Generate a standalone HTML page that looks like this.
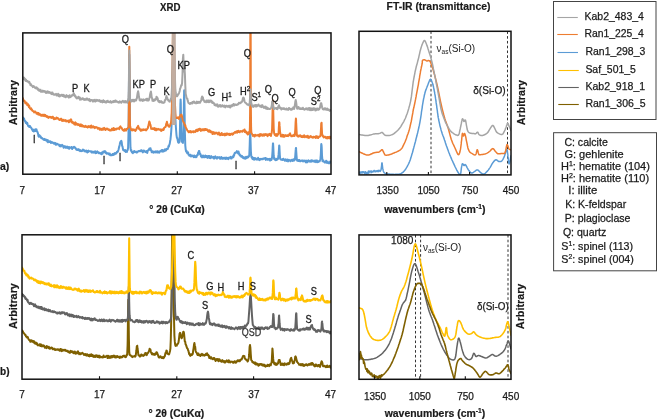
<!DOCTYPE html>
<html><head><meta charset="utf-8"><title>XRD and FT-IR</title>
<style>html,body{margin:0;padding:0;background:#fff;width:657px;height:420px;overflow:hidden;font-family:"Liberation Sans",sans-serif}svg{display:block;will-change:transform}</style>
</head><body>
<svg width="657" height="420" viewBox="0 0 657 420" font-family='"Liberation Sans", sans-serif'><rect width="657" height="420" fill="#fff"/><defs><clipPath id="cxa"><rect x="22.8" y="32.9" width="308.2" height="141.3"/></clipPath><clipPath id="cxb"><rect x="22.0" y="234.8" width="309.0" height="144.4"/></clipPath><clipPath id="cfa"><rect x="359.0" y="31.3" width="152.0" height="143.6"/></clipPath><clipPath id="cfb"><rect x="359.0" y="234.9" width="152.0" height="144.4"/></clipPath></defs><g clip-path="url(#cxa)"><polyline points="22.5,117.4 22.9,118.0 23.3,117.7 23.7,119.4 24.1,118.7 24.5,120.3 24.9,121.0 25.3,120.9 25.7,122.8 26.1,123.0 26.5,122.3 26.9,123.9 27.3,123.0 27.7,124.5 28.1,125.8 28.5,126.3 28.9,126.3 29.3,126.9 29.7,125.9 30.1,126.1 30.5,127.3 30.9,127.5 31.3,127.9 31.7,128.6 32.1,129.7 32.5,130.2 32.9,130.9 33.3,129.6 33.7,131.6 34.1,131.1 34.5,130.3 34.9,130.9 35.3,129.2 35.7,131.0 36.1,130.2 36.5,129.4 36.9,131.5 37.3,131.5 37.7,132.6 38.1,134.1 38.5,136.3 38.9,136.7 39.3,135.1 39.7,135.5 40.1,136.4 40.5,136.3 40.9,137.7 41.3,138.2 41.7,137.7 42.1,138.2 42.5,138.7 42.9,139.0 43.3,139.3 43.7,139.8 44.1,138.9 44.5,140.0 44.9,139.1 45.3,140.3 45.7,140.2 46.1,139.5 46.5,140.6 46.9,140.6 47.3,141.6 47.7,140.0 48.1,142.2 48.5,141.2 48.9,141.2 49.3,141.3 49.7,142.0 50.1,141.6 50.5,141.4 50.9,143.0 51.3,141.9 51.7,142.3 52.1,142.6 52.5,142.2 52.9,142.6 53.3,143.2 53.7,143.0 54.1,143.8 54.5,143.8 54.9,142.9 55.3,143.2 55.7,144.8 56.1,143.5 56.5,144.6 56.9,144.3 57.3,143.9 57.7,144.2 58.1,144.5 58.5,144.5 58.9,144.5 59.3,145.7 59.7,146.3 60.1,146.2 60.5,145.1 60.9,146.5 61.3,146.0 61.7,145.5 62.1,144.8 62.5,145.5 62.9,145.4 63.3,147.0 63.7,147.7 64.1,147.2 64.5,147.1 64.9,146.1 65.3,146.9 65.7,147.8 66.1,146.8 66.5,147.8 66.9,147.7 67.3,146.6 67.7,148.0 68.1,147.8 68.5,148.4 68.9,147.0 69.3,148.8 69.7,147.3 70.1,147.8 70.5,147.8 70.9,147.2 71.3,147.2 71.7,147.0 72.1,149.1 72.5,148.0 72.9,147.5 73.3,147.9 73.7,147.2 74.1,146.8 74.5,147.3 74.9,147.7 75.3,147.5 75.7,148.8 76.1,148.9 76.5,149.8 76.9,149.3 77.3,150.0 77.7,150.0 78.1,149.2 78.5,150.2 78.9,149.4 79.3,150.5 79.7,150.0 80.1,151.1 80.5,150.2 80.9,150.7 81.3,151.2 81.7,151.0 82.1,151.0 82.5,150.7 82.9,149.6 83.3,149.8 83.7,149.7 84.1,150.3 84.5,151.3 84.9,151.2 85.3,151.5 85.7,151.4 86.1,150.5 86.5,151.6 86.9,150.8 87.3,152.5 87.7,150.9 88.1,152.0 88.5,150.6 88.9,151.4 89.3,151.3 89.7,151.3 90.1,151.3 90.5,151.3 90.9,151.6 91.3,151.3 91.7,152.6 92.1,152.2 92.5,152.4 92.9,151.6 93.3,152.5 93.7,152.4 94.1,152.7 94.5,151.6 94.9,152.1 95.3,151.4 95.7,153.2 96.1,152.6 96.5,153.0 96.9,152.0 97.3,151.3 97.7,152.2 98.1,152.0 98.5,152.9 98.9,153.3 99.3,152.7 99.7,153.3 100.1,153.1 100.5,153.4 100.9,153.1 101.3,154.3 101.7,152.6 102.1,153.3 102.5,153.8 102.9,152.3 103.3,151.5 103.7,151.7 104.1,152.1 104.5,151.8 104.9,151.1 105.3,151.3 105.7,153.0 106.1,152.5 106.5,153.7 106.9,152.9 107.3,153.5 107.7,153.7 108.1,153.9 108.5,153.4 108.9,154.3 109.3,154.6 109.7,153.5 110.1,154.4 110.5,155.3 110.9,154.8 111.3,155.2 111.7,154.9 112.1,155.2 112.5,154.0 112.9,154.4 113.3,155.0 113.7,153.8 114.1,154.6 114.5,154.6 114.9,153.0 115.3,153.1 115.7,153.8 116.1,153.3 116.5,152.9 116.9,151.9 117.3,152.3 117.7,151.9 118.1,151.0 118.5,149.8 118.9,148.0 119.3,146.6 119.7,144.8 120.1,142.6 120.5,141.7 120.9,141.3 121.3,140.8 121.7,142.1 122.1,145.8 122.5,146.3 122.9,148.9 123.3,150.2 123.7,149.7 124.1,150.0 124.5,151.0 124.9,150.2 125.3,150.1 125.7,152.0 126.1,151.2 126.5,151.4 126.9,151.9 127.3,150.2 127.7,150.0 128.1,147.7 128.5,133.1 128.7,115.1 128.9,90.3 129.0,77.1 129.2,60.7 129.3,54.5 129.4,62.0 129.6,76.8 129.7,91.0 129.9,114.8 130.1,131.8 130.5,147.9 130.9,150.5 131.3,150.0 131.7,151.7 132.1,152.4 132.5,151.8 132.9,153.2 133.3,152.3 133.7,152.4 134.1,151.1 134.5,151.1 134.9,151.6 135.3,152.0 135.7,152.2 136.1,151.7 136.5,151.8 136.9,152.6 137.3,151.7 137.7,151.9 138.1,151.4 138.5,151.0 138.9,151.1 139.3,151.2 139.7,150.9 140.1,150.9 140.5,150.6 140.9,151.3 141.3,150.3 141.7,151.2 142.1,150.8 142.5,151.5 142.9,152.4 143.3,150.6 143.7,150.9 144.1,151.5 144.5,150.7 144.9,151.4 145.3,152.0 145.7,151.9 146.1,151.5 146.5,152.4 146.9,151.1 147.3,152.9 147.7,150.9 148.1,150.5 148.5,149.8 148.9,150.0 149.3,148.6 149.7,148.6 150.1,149.3 150.5,148.3 150.9,150.2 151.3,150.3 151.7,152.2 152.1,151.3 152.5,152.0 152.9,151.4 153.3,152.7 153.7,152.5 154.1,152.3 154.5,151.7 154.9,152.3 155.3,151.4 155.7,152.4 156.1,152.0 156.5,151.5 156.9,151.3 157.3,152.6 157.7,151.3 158.1,152.5 158.5,152.6 158.9,151.9 159.3,152.6 159.7,151.5 160.1,151.2 160.5,150.9 160.9,150.8 161.3,151.5 161.7,150.1 162.1,151.1 162.5,150.0 162.9,151.7 163.3,150.7 163.7,151.1 164.1,151.2 164.5,149.9 164.9,149.3 165.3,149.5 165.7,150.6 166.1,150.1 166.5,148.9 166.9,149.3 167.3,148.8 167.7,149.0 168.1,147.8 168.5,146.1 168.9,146.5 169.3,144.8 169.7,143.8 170.1,141.3 170.5,139.2 170.9,135.3 171.3,130.1 171.7,122.8 172.1,110.0 172.5,91.4 172.9,62.2 173.3,30.0 173.7,21.8 174.1,46.8 174.5,78.3 174.9,100.3 175.3,116.1 175.7,124.4 176.1,130.0 176.5,135.1 176.9,137.8 177.3,138.0 177.7,140.3 178.1,142.2 178.5,142.8 178.9,142.3 179.3,142.3 179.7,137.5 180.0,126.7 180.1,121.0 180.3,110.4 180.4,103.8 180.5,102.4 180.6,99.4 180.8,102.8 180.9,110.3 181.2,127.9 181.3,131.4 181.7,141.5 182.1,141.7 182.5,142.4 182.9,143.0 183.3,137.6 183.6,124.2 183.7,118.3 183.9,104.2 184.1,93.7 184.1,91.3 184.2,90.3 184.3,94.5 184.5,103.7 184.8,127.7 184.9,132.7 185.3,145.6 185.7,149.6 186.1,151.5 186.5,150.6 186.9,152.7 187.3,153.3 187.7,152.6 188.1,152.3 188.5,154.6 188.9,154.5 189.3,155.8 189.7,155.7 190.1,155.6 190.5,154.7 190.9,156.6 191.3,155.5 191.7,155.6 192.1,155.9 192.5,155.6 192.9,156.1 193.3,156.7 193.7,157.2 194.1,155.4 194.5,156.4 194.9,155.8 195.3,157.2 195.7,156.3 196.1,156.0 196.5,157.1 196.9,155.4 197.3,155.1 197.7,155.2 198.1,152.6 198.5,152.9 198.9,151.0 199.3,150.9 199.7,153.9 200.1,153.5 200.5,154.2 200.9,156.3 201.3,156.7 201.7,155.7 202.1,157.4 202.5,155.8 202.9,155.9 203.3,155.6 203.7,157.3 204.1,157.1 204.5,157.2 204.9,156.9 205.3,155.5 205.7,156.1 206.1,157.2 206.5,156.0 206.9,157.3 207.3,156.2 207.7,157.9 208.1,156.0 208.5,155.9 208.9,157.5 209.3,155.9 209.7,158.1 210.1,156.9 210.5,158.1 210.9,157.6 211.3,156.1 211.7,157.5 212.1,157.4 212.5,157.4 212.9,157.3 213.3,156.9 213.7,158.4 214.1,157.1 214.5,158.6 214.9,157.0 215.3,156.4 215.7,157.5 216.1,157.1 216.5,158.2 216.9,158.7 217.3,157.8 217.7,157.1 218.1,157.7 218.5,157.7 218.9,157.5 219.3,157.1 219.7,157.7 220.1,158.8 220.5,158.8 220.9,158.8 221.3,157.0 221.7,158.2 222.1,158.0 222.5,158.6 222.9,157.7 223.3,158.6 223.7,158.3 224.1,158.4 224.5,157.7 224.9,158.7 225.3,158.6 225.7,158.9 226.1,157.4 226.5,158.8 226.9,158.8 227.3,158.0 227.7,158.2 228.1,157.9 228.5,159.1 228.9,157.7 229.3,157.9 229.7,157.5 230.1,157.5 230.5,156.8 230.9,158.6 231.3,158.2 231.7,158.4 232.1,157.6 232.5,156.6 232.9,156.9 233.3,157.3 233.7,155.1 234.1,155.6 234.5,153.5 234.9,152.8 235.3,152.9 235.7,152.6 236.1,152.2 236.5,152.4 236.9,151.1 237.3,152.6 237.7,151.8 238.1,153.4 238.5,151.6 238.9,153.0 239.3,154.7 239.7,154.3 240.1,155.8 240.5,155.1 240.9,155.9 241.3,156.7 241.7,156.5 242.1,156.0 242.5,157.6 242.9,156.8 243.3,158.1 243.7,157.2 244.1,158.5 244.5,157.5 244.9,157.4 245.3,158.7 245.7,158.5 246.1,156.7 246.5,157.1 246.9,157.9 247.3,157.6 247.7,156.6 248.1,157.4 248.5,156.5 248.9,156.4 249.3,154.7 249.6,147.5 249.7,145.1 249.9,137.9 250.1,134.6 250.1,132.6 250.2,132.4 250.3,133.9 250.5,138.2 250.8,148.9 250.9,151.5 251.3,156.3 251.7,157.8 252.1,156.9 252.5,159.0 252.9,158.5 253.3,159.1 253.7,157.9 254.1,159.7 254.5,159.6 254.9,157.9 255.3,158.4 255.7,159.1 256.1,158.6 256.5,158.8 256.9,159.6 257.3,158.8 257.7,159.5 258.1,157.8 258.5,159.0 258.9,159.6 259.3,159.2 259.7,160.1 260.1,159.0 260.5,159.3 260.9,158.8 261.3,159.2 261.7,159.3 262.1,158.8 262.5,158.9 262.9,159.3 263.3,158.5 263.7,158.5 264.1,158.2 264.5,158.8 264.9,158.8 265.3,158.0 265.7,159.9 266.1,159.5 266.5,158.5 266.9,158.8 267.3,158.8 267.7,159.8 268.1,159.2 268.5,159.2 268.9,159.7 269.3,158.8 269.7,160.3 270.1,160.5 270.5,159.6 270.9,158.8 271.3,160.1 271.7,159.3 272.1,157.3 272.4,153.0 272.5,151.8 272.7,147.0 272.9,144.3 272.9,143.5 273.0,143.6 273.1,143.5 273.3,147.1 273.6,153.5 273.7,155.7 274.1,158.9 274.5,158.1 274.9,159.7 275.3,159.0 275.7,160.2 276.1,159.4 276.5,158.9 276.9,159.9 277.3,158.8 277.7,159.3 278.1,158.2 278.5,154.9 278.6,154.4 278.9,150.3 279.1,146.7 279.2,145.4 279.3,147.0 279.4,146.0 279.5,148.9 279.7,152.5 279.8,154.8 280.1,158.3 280.5,159.4 280.9,159.6 281.3,159.7 281.7,159.6 282.1,159.2 282.5,159.9 282.9,159.6 283.3,158.7 283.7,159.1 284.1,159.5 284.5,160.4 284.9,160.8 285.3,160.2 285.7,159.3 286.1,160.4 286.5,160.9 286.9,160.5 287.3,159.5 287.7,160.0 288.1,161.4 288.5,160.2 288.9,159.7 289.3,160.5 289.7,160.2 290.1,160.4 290.5,161.3 290.9,160.5 291.3,160.1 291.7,159.8 292.1,160.4 292.5,161.0 292.9,160.9 293.3,159.2 293.7,160.5 294.1,160.6 294.5,159.7 294.9,159.8 295.3,155.4 295.6,151.2 295.7,149.5 295.8,149.2 295.9,147.9 296.1,147.9 296.1,149.8 296.2,150.7 296.5,155.4 296.9,160.1 297.3,160.8 297.7,160.4 298.1,160.1 298.5,161.0 298.9,160.1 299.3,159.9 299.7,160.3 300.1,161.3 300.5,160.9 300.9,161.2 301.3,160.7 301.7,160.7 302.1,160.4 302.5,161.0 302.9,161.5 303.3,161.3 303.7,160.6 304.1,160.8 304.5,160.6 304.9,161.4 305.3,160.7 305.7,162.1 306.1,162.4 306.5,161.6 306.9,160.6 307.3,162.2 307.7,161.8 308.1,161.2 308.5,160.4 308.9,161.1 309.3,160.9 309.7,160.9 310.1,161.8 310.5,160.6 310.9,160.8 311.3,161.7 311.7,160.2 312.1,160.7 312.5,161.1 312.9,160.6 313.3,161.3 313.7,161.1 314.1,161.6 314.5,161.8 314.9,160.6 315.3,160.6 315.7,161.9 316.1,162.2 316.5,160.6 316.9,160.4 317.3,161.1 317.7,162.2 318.1,162.0 318.5,161.4 318.9,161.7 319.3,160.7 319.7,161.3 320.1,159.9 320.5,158.2 320.8,154.9 320.9,152.4 321.1,147.4 321.2,144.9 321.3,144.0 321.4,144.5 321.6,145.7 321.7,147.3 322.0,155.5 322.1,156.5 322.5,161.2 322.9,160.9 323.3,160.4 323.7,161.6 324.1,161.6 324.5,162.2 324.9,162.6 325.3,162.3 325.7,162.1 326.1,160.8 326.5,162.5 326.9,163.0 327.3,161.7 327.7,161.6 328.1,162.5 328.5,163.2 328.9,163.3 329.3,163.1 329.7,163.3 330.1,161.4 330.5,162.2 330.9,161.8" fill="none" stroke="#5b9bd5" stroke-width="2.0" stroke-linejoin="round" stroke-linecap="round"/><polyline points="22.5,100.0 22.9,98.3 23.3,100.4 23.7,100.1 24.1,101.2 24.5,100.7 24.9,101.6 25.3,103.4 25.7,103.2 26.1,103.0 26.5,102.5 26.9,103.7 27.3,105.2 27.7,105.0 28.1,104.2 28.5,104.8 28.9,107.1 29.3,106.0 29.7,107.9 30.1,108.6 30.5,108.8 30.9,109.3 31.3,108.4 31.7,109.9 32.1,109.8 32.5,110.9 32.9,111.0 33.3,111.4 33.7,111.3 34.1,112.5 34.5,111.9 34.9,111.5 35.3,111.5 35.7,112.2 36.1,112.6 36.5,113.7 36.9,113.3 37.3,113.6 37.7,112.8 38.1,114.4 38.5,113.0 38.9,114.7 39.3,114.0 39.7,113.9 40.1,114.5 40.5,115.5 40.9,114.7 41.3,114.7 41.7,115.8 42.1,115.6 42.5,114.7 42.9,115.4 43.3,116.0 43.7,115.5 44.1,114.6 44.5,115.1 44.9,116.1 45.3,115.0 45.7,115.8 46.1,115.9 46.5,116.9 46.9,116.0 47.3,116.1 47.7,117.2 48.1,117.7 48.5,117.9 48.9,116.8 49.3,117.1 49.7,117.1 50.1,116.8 50.5,117.5 50.9,117.0 51.3,117.6 51.7,117.9 52.1,117.8 52.5,116.7 52.9,116.8 53.3,117.8 53.7,118.8 54.1,119.3 54.5,118.1 54.9,118.4 55.3,119.0 55.7,118.2 56.1,118.7 56.5,117.5 56.9,117.8 57.3,118.4 57.7,118.1 58.1,118.2 58.5,119.0 58.9,119.4 59.3,119.9 59.7,120.1 60.1,119.7 60.5,118.9 60.9,119.8 61.3,118.8 61.7,119.8 62.1,121.0 62.5,119.9 62.9,120.4 63.3,120.6 63.7,119.7 64.1,120.9 64.5,120.3 64.9,120.5 65.3,120.7 65.7,120.0 66.1,121.5 66.5,121.1 66.9,120.9 67.3,120.9 67.7,121.2 68.1,120.5 68.5,121.8 68.9,122.3 69.3,120.5 69.7,121.8 70.1,120.7 70.5,119.8 70.9,119.3 71.3,119.9 71.7,121.6 72.1,122.7 72.5,121.8 72.9,122.2 73.3,123.3 73.7,123.5 74.1,122.8 74.5,124.5 74.9,123.1 75.3,122.4 75.7,124.7 76.1,123.2 76.5,123.4 76.9,124.5 77.3,124.2 77.7,124.1 78.1,125.1 78.5,124.4 78.9,124.2 79.3,125.0 79.7,125.0 80.1,126.1 80.5,124.7 80.9,124.4 81.3,126.2 81.7,125.2 82.1,125.1 82.5,126.4 82.9,125.7 83.3,125.7 83.7,126.4 84.1,126.9 84.5,126.2 84.9,126.2 85.3,126.6 85.7,125.8 86.1,127.0 86.5,127.0 86.9,126.9 87.3,126.6 87.7,127.5 88.1,127.0 88.5,126.1 88.9,127.0 89.3,127.2 89.7,126.7 90.1,126.1 90.5,126.7 90.9,127.6 91.3,125.5 91.7,127.4 92.1,127.5 92.5,127.4 92.9,126.6 93.3,126.2 93.7,127.4 94.1,127.4 94.5,127.1 94.9,128.1 95.3,127.1 95.7,127.3 96.1,127.1 96.5,127.4 96.9,127.6 97.3,127.6 97.7,128.7 98.1,128.3 98.5,128.3 98.9,127.9 99.3,128.6 99.7,129.8 100.1,129.1 100.5,128.6 100.9,129.1 101.3,129.9 101.7,129.6 102.1,128.6 102.5,128.5 102.9,129.8 103.3,129.3 103.7,128.5 104.1,127.9 104.5,128.2 104.9,128.5 105.3,130.1 105.7,129.5 106.1,129.1 106.5,128.5 106.9,129.2 107.3,128.6 107.7,128.7 108.1,129.7 108.5,129.9 108.9,129.9 109.3,129.5 109.7,130.4 110.1,130.1 110.5,130.6 110.9,130.6 111.3,129.6 111.7,129.2 112.1,128.6 112.5,129.3 112.9,130.2 113.3,130.1 113.7,128.0 114.1,128.7 114.5,130.1 114.9,129.3 115.3,128.9 115.7,129.3 116.1,129.5 116.5,128.6 116.9,128.5 117.3,128.4 117.7,128.8 118.1,128.5 118.5,128.3 118.9,128.6 119.3,129.1 119.7,127.1 120.1,127.4 120.5,126.4 120.9,127.6 121.3,127.8 121.7,127.9 122.1,128.9 122.5,129.7 122.9,130.2 123.3,129.9 123.7,130.7 124.1,130.8 124.5,129.8 124.9,129.1 125.3,130.6 125.7,130.3 126.1,130.5 126.5,129.0 126.9,128.7 127.3,128.9 127.7,128.1 128.1,127.8 128.5,127.5 128.7,122.5 128.9,103.8 129.0,87.2 129.2,59.4 129.3,46.7 129.4,60.5 129.6,89.0 129.7,103.9 129.9,120.7 130.1,125.9 130.5,127.6 130.9,129.0 131.3,130.3 131.7,129.8 132.1,129.4 132.5,130.4 132.9,129.3 133.3,129.4 133.7,129.6 134.1,130.3 134.5,130.1 134.9,129.5 135.3,131.0 135.7,130.2 136.1,130.1 136.5,129.3 136.9,127.7 137.3,127.6 137.7,126.6 138.1,125.9 138.5,127.1 138.9,128.9 139.3,128.3 139.7,128.7 140.1,129.9 140.5,130.5 140.9,130.9 141.3,129.6 141.7,130.4 142.1,129.5 142.5,130.3 142.9,129.8 143.3,130.0 143.7,129.3 144.1,129.6 144.5,129.7 144.9,130.0 145.3,129.8 145.7,129.4 146.1,130.4 146.5,129.9 146.9,129.3 147.3,128.8 147.7,128.4 148.1,127.1 148.5,125.2 148.9,123.4 149.3,121.4 149.7,122.3 150.1,124.1 150.5,125.0 150.9,127.2 151.3,128.9 151.7,128.2 152.1,128.3 152.5,128.8 152.9,129.0 153.3,128.4 153.7,128.6 154.1,129.3 154.5,128.1 154.9,130.0 155.3,129.2 155.7,130.2 156.1,128.6 156.5,130.2 156.9,129.4 157.3,129.6 157.7,129.6 158.1,128.8 158.5,129.5 158.9,129.4 159.3,129.3 159.7,129.8 160.1,129.8 160.5,129.4 160.9,130.8 161.3,130.9 161.7,129.5 162.1,130.4 162.5,129.4 162.9,129.9 163.3,129.9 163.7,129.9 164.1,127.8 164.5,127.6 164.9,127.1 165.3,127.1 165.7,126.8 166.1,124.3 166.5,123.1 166.9,121.7 167.3,123.4 167.7,125.2 168.1,125.0 168.5,126.4 168.9,126.6 169.3,126.8 169.7,126.4 170.1,125.6 170.5,123.8 170.9,123.7 171.3,119.8 171.7,112.9 172.1,95.4 172.5,68.3 172.9,33.6 173.3,10.7 173.7,18.8 174.1,50.1 174.5,80.9 174.9,101.9 175.3,113.6 175.7,117.0 176.1,117.9 176.5,118.0 176.9,118.0 177.3,118.0 177.7,117.7 178.1,117.2 178.5,118.1 178.9,118.9 179.3,117.4 179.7,116.7 180.1,116.5 180.5,114.9 180.9,114.9 181.3,114.6 181.7,115.3 182.1,116.5 182.5,118.9 182.9,121.0 183.3,121.5 183.7,122.7 184.1,122.9 184.5,124.6 184.9,126.0 185.3,125.2 185.7,127.4 186.1,128.0 186.5,128.9 186.9,129.5 187.3,130.5 187.7,130.9 188.1,131.3 188.5,132.1 188.9,131.3 189.3,132.2 189.7,131.8 190.1,131.0 190.5,131.9 190.9,132.4 191.3,131.5 191.7,132.2 192.1,131.4 192.5,131.4 192.9,131.6 193.3,131.2 193.7,132.3 194.1,131.3 194.5,131.7 194.9,131.5 195.3,132.0 195.7,131.4 196.1,129.9 196.5,129.8 196.9,130.5 197.3,131.1 197.7,130.9 198.1,129.2 198.5,129.8 198.9,130.1 199.3,128.8 199.7,129.4 200.1,128.8 200.5,129.6 200.9,130.9 201.3,130.4 201.7,129.4 202.1,129.3 202.5,130.3 202.9,130.2 203.3,129.2 203.7,129.8 204.1,130.1 204.5,129.1 204.9,130.1 205.3,129.1 205.7,129.1 206.1,130.0 206.5,129.3 206.9,130.0 207.3,129.5 207.7,130.5 208.1,131.4 208.5,131.6 208.9,130.3 209.3,130.3 209.7,131.7 210.1,130.6 210.5,132.2 210.9,132.3 211.3,132.0 211.7,131.5 212.1,132.2 212.5,134.0 212.9,134.1 213.3,132.2 213.7,132.1 214.1,133.4 214.5,133.1 214.9,133.9 215.3,132.9 215.7,133.1 216.1,132.6 216.5,132.7 216.9,132.8 217.3,133.6 217.7,134.2 218.1,134.5 218.5,134.4 218.9,132.6 219.3,133.9 219.7,134.5 220.1,135.1 220.5,133.9 220.9,135.0 221.3,134.3 221.7,133.0 222.1,134.6 222.5,135.0 222.9,134.6 223.3,134.9 223.7,134.0 224.1,134.3 224.5,133.7 224.9,135.4 225.3,135.1 225.7,133.7 226.1,135.0 226.5,133.4 226.9,134.7 227.3,134.1 227.7,133.6 228.1,134.0 228.5,134.4 228.9,134.1 229.3,135.0 229.7,133.8 230.1,135.0 230.5,134.6 230.9,134.0 231.3,133.8 231.7,134.3 232.1,133.5 232.5,134.7 232.9,134.0 233.3,134.0 233.7,133.1 234.1,132.7 234.5,132.8 234.9,132.0 235.3,132.1 235.7,132.8 236.1,132.1 236.5,131.3 236.9,132.4 237.3,132.6 237.7,131.0 238.1,131.1 238.5,130.7 238.9,132.1 239.3,131.4 239.7,132.3 240.1,131.3 240.5,131.1 240.9,131.0 241.3,131.4 241.7,131.2 242.1,131.3 242.5,131.8 242.9,130.5 243.3,130.6 243.7,130.7 244.1,130.3 244.5,129.5 244.9,132.0 245.3,130.8 245.7,132.2 246.1,132.7 246.5,131.9 246.9,133.4 247.3,133.3 247.7,134.5 248.1,134.3 248.5,132.3 248.9,132.6 249.3,133.4 249.7,131.0 249.9,127.4 250.1,110.8 250.2,87.0 250.3,39.7 250.5,11.2 250.7,39.6 250.8,88.0 250.9,109.8 251.1,127.4 251.3,131.9 251.7,133.1 252.1,134.2 252.5,134.6 252.9,135.9 253.3,135.0 253.7,135.0 254.1,135.6 254.5,136.5 254.9,134.9 255.3,134.7 255.7,135.6 256.1,135.4 256.5,135.3 256.9,135.5 257.3,135.6 257.7,135.6 258.1,134.7 258.5,135.7 258.9,135.4 259.3,136.4 259.7,135.7 260.1,134.0 260.5,135.2 260.9,135.6 261.3,134.4 261.7,134.3 262.1,134.7 262.5,135.7 262.9,134.9 263.3,135.1 263.7,134.2 264.1,135.8 264.5,135.2 264.9,134.2 265.3,134.1 265.7,134.9 266.1,134.2 266.5,134.2 266.9,135.6 267.3,134.9 267.7,136.1 268.1,134.3 268.5,134.7 268.9,134.9 269.3,134.2 269.7,133.9 270.1,135.2 270.5,134.6 270.9,136.0 271.3,134.1 271.7,132.9 272.1,128.8 272.3,121.8 272.5,113.6 272.6,108.6 272.8,102.0 272.9,100.6 273.1,102.6 273.2,107.9 273.3,112.9 273.5,121.2 273.7,128.6 274.1,133.0 274.5,134.2 274.9,134.9 275.3,134.7 275.7,135.7 276.1,134.0 276.5,135.5 276.9,135.9 277.3,135.8 277.7,134.0 278.1,134.5 278.5,132.9 278.7,131.0 278.9,126.4 279.0,126.2 279.1,122.3 279.3,122.2 279.4,122.5 279.6,125.9 279.7,126.8 279.9,130.0 280.1,132.3 280.5,134.0 280.9,136.3 281.3,135.7 281.7,136.3 282.1,136.5 282.5,134.8 282.9,135.5 283.3,136.7 283.7,135.0 284.1,136.2 284.5,136.7 284.9,135.7 285.3,135.5 285.7,135.1 286.1,135.7 286.5,136.0 286.9,136.0 287.3,135.2 287.7,135.7 288.1,136.1 288.5,135.0 288.9,135.5 289.3,134.3 289.7,133.7 290.1,133.4 290.5,135.2 290.9,135.7 291.3,136.3 291.7,135.7 292.1,136.2 292.5,135.9 292.9,135.3 293.3,136.0 293.7,135.6 294.1,134.5 294.5,136.1 294.9,134.6 295.3,129.4 295.6,122.2 295.7,121.3 295.8,120.0 295.9,118.5 296.1,120.0 296.1,122.4 296.2,123.2 296.5,129.8 296.9,135.7 297.3,135.3 297.7,136.2 298.1,136.7 298.5,135.8 298.9,135.6 299.3,136.3 299.7,136.0 300.1,135.2 300.5,136.5 300.9,136.4 301.3,136.2 301.7,137.0 302.1,135.9 302.5,136.7 302.9,137.2 303.3,137.0 303.7,136.5 304.1,135.3 304.5,136.5 304.9,137.1 305.3,136.6 305.7,136.7 306.1,136.0 306.5,136.5 306.9,137.3 307.3,137.4 307.7,135.7 308.1,137.5 308.5,137.9 308.9,136.8 309.3,137.7 309.7,137.3 310.1,136.7 310.5,136.1 310.9,136.4 311.3,136.5 311.7,137.2 312.1,137.2 312.5,137.4 312.9,137.8 313.3,136.7 313.7,137.3 314.1,136.9 314.5,137.3 314.9,137.4 315.3,136.9 315.7,138.0 316.1,136.3 316.5,137.5 316.9,136.3 317.3,136.9 317.7,136.8 318.1,138.1 318.5,136.9 318.9,137.2 319.3,136.6 319.7,136.2 320.1,136.5 320.5,135.7 320.8,132.4 320.9,130.3 321.1,126.8 321.2,123.9 321.3,123.2 321.4,123.8 321.6,122.7 321.7,126.5 322.0,132.1 322.1,134.0 322.5,135.2 322.9,136.3 323.3,136.1 323.7,137.5 324.1,137.4 324.5,136.9 324.9,136.7 325.3,136.8 325.7,137.0 326.1,138.1 326.5,137.6 326.9,138.2 327.3,137.0 327.7,138.4 328.1,137.7 328.5,137.2 328.9,137.0 329.3,138.2 329.7,136.8 330.1,138.4 330.5,138.1 330.9,136.9" fill="none" stroke="#ed7d31" stroke-width="2.0" stroke-linejoin="round" stroke-linecap="round"/><polyline points="22.5,77.7 22.9,77.2 23.3,77.9 23.7,79.1 24.1,77.6 24.5,79.1 24.9,78.7 25.3,80.4 25.7,81.0 26.1,79.8 26.5,80.8 26.9,81.3 27.3,81.4 27.7,81.0 28.1,82.0 28.5,81.7 28.9,82.4 29.3,81.9 29.7,83.6 30.1,83.3 30.5,85.3 30.9,84.1 31.3,85.3 31.7,85.3 32.1,86.2 32.5,86.0 32.9,87.1 33.3,86.7 33.7,86.0 34.1,86.9 34.5,87.1 34.9,87.8 35.3,87.4 35.7,88.3 36.1,87.8 36.5,87.3 36.9,88.6 37.3,89.0 37.7,88.3 38.1,90.1 38.5,89.6 38.9,89.4 39.3,90.9 39.7,90.1 40.1,90.3 40.5,89.7 40.9,91.7 41.3,91.8 41.7,91.4 42.1,91.2 42.5,91.8 42.9,90.6 43.3,91.3 43.7,91.1 44.1,91.8 44.5,91.7 44.9,91.0 45.3,91.7 45.7,92.7 46.1,93.0 46.5,92.9 46.9,91.7 47.3,91.3 47.7,92.1 48.1,92.7 48.5,91.7 48.9,92.6 49.3,92.1 49.7,92.9 50.1,93.0 50.5,92.7 50.9,92.5 51.3,93.9 51.7,92.8 52.1,94.3 52.5,92.5 52.9,93.9 53.3,93.9 53.7,94.0 54.1,94.9 54.5,94.4 54.9,94.5 55.3,94.5 55.7,94.6 56.1,93.8 56.5,95.5 56.9,95.4 57.3,95.5 57.7,94.8 58.1,93.8 58.5,94.3 58.9,96.3 59.3,94.7 59.7,96.5 60.1,95.7 60.5,95.2 60.9,95.6 61.3,94.7 61.7,95.5 62.1,95.2 62.5,96.0 62.9,94.8 63.3,95.2 63.7,96.6 64.1,95.3 64.5,96.7 64.9,96.0 65.3,96.8 65.7,97.2 66.1,96.5 66.5,95.1 66.9,95.7 67.3,96.6 67.7,96.3 68.1,95.9 68.5,96.8 68.9,97.6 69.3,96.5 69.7,95.2 70.1,96.7 70.5,97.1 70.9,96.6 71.3,96.3 71.7,95.8 72.1,95.1 72.5,95.5 72.9,94.9 73.3,94.7 73.7,93.3 74.1,94.0 74.5,95.9 74.9,95.2 75.3,96.7 75.7,96.3 76.1,97.7 76.5,98.1 76.9,98.4 77.3,97.6 77.7,97.9 78.1,98.1 78.5,96.7 78.9,97.9 79.3,98.4 79.7,97.5 80.1,99.8 80.5,98.3 80.9,99.0 81.3,99.2 81.7,99.5 82.1,99.0 82.5,98.3 82.9,98.2 83.3,99.1 83.7,99.6 84.1,99.3 84.5,99.0 84.9,99.9 85.3,99.2 85.7,99.5 86.1,99.7 86.5,98.4 86.9,98.4 87.3,98.6 87.7,99.5 88.1,99.9 88.5,100.3 88.9,99.4 89.3,99.0 89.7,99.6 90.1,101.3 90.5,100.1 90.9,100.1 91.3,100.0 91.7,99.9 92.1,99.9 92.5,101.3 92.9,101.5 93.3,101.3 93.7,100.2 94.1,100.0 94.5,101.2 94.9,99.7 95.3,101.6 95.7,101.0 96.1,101.1 96.5,100.7 96.9,99.8 97.3,100.8 97.7,100.2 98.1,100.3 98.5,100.3 98.9,101.0 99.3,101.4 99.7,100.1 100.1,101.2 100.5,101.2 100.9,101.9 101.3,101.2 101.7,100.7 102.1,101.4 102.5,102.4 102.9,101.6 103.3,100.2 103.7,102.0 104.1,101.6 104.5,101.1 104.9,102.3 105.3,101.9 105.7,101.8 106.1,102.6 106.5,102.2 106.9,101.1 107.3,101.5 107.7,100.7 108.1,102.1 108.5,101.6 108.9,101.8 109.3,102.1 109.7,101.8 110.1,102.2 110.5,101.1 110.9,102.6 111.3,102.3 111.7,102.6 112.1,101.8 112.5,101.9 112.9,101.3 113.3,102.2 113.7,101.1 114.1,101.6 114.5,101.1 114.9,101.9 115.3,100.5 115.7,100.4 116.1,101.8 116.5,101.2 116.9,101.7 117.3,101.7 117.7,101.8 118.1,102.4 118.5,102.2 118.9,102.7 119.3,102.2 119.7,101.4 120.1,102.2 120.5,101.9 120.9,102.5 121.3,102.8 121.7,101.6 122.1,101.4 122.5,101.5 122.9,100.9 123.3,101.7 123.7,101.5 124.1,102.4 124.5,102.2 124.9,101.2 125.3,101.0 125.7,102.4 126.1,101.8 126.5,101.9 126.9,101.7 127.3,102.7 127.7,100.5 128.1,100.7 128.5,97.4 128.7,92.9 128.9,80.8 129.0,71.3 129.2,57.4 129.3,50.6 129.4,57.0 129.6,70.7 129.7,80.6 129.9,93.9 130.1,99.1 130.5,100.8 130.9,100.2 131.3,101.6 131.7,100.2 132.1,101.0 132.5,99.9 132.9,101.2 133.3,100.3 133.7,99.7 134.1,101.5 134.5,100.5 134.9,100.9 135.3,99.7 135.7,100.0 136.1,100.5 136.5,99.0 136.9,98.2 137.3,95.1 137.7,92.7 138.1,91.3 138.5,93.2 138.9,96.6 139.3,98.2 139.7,100.2 140.1,100.6 140.5,100.4 140.9,99.5 141.3,100.4 141.7,99.5 142.1,99.4 142.5,100.2 142.9,100.9 143.3,99.8 143.7,99.4 144.1,100.3 144.5,100.3 144.9,100.1 145.3,99.6 145.7,99.5 146.1,99.0 146.5,98.8 146.9,100.6 147.3,98.8 147.7,100.6 148.1,100.5 148.5,100.6 148.9,99.9 149.3,98.5 149.7,97.3 150.1,94.4 150.5,92.7 150.9,91.5 151.3,93.8 151.7,97.7 152.1,98.2 152.5,100.8 152.9,99.9 153.3,101.0 153.7,100.9 154.1,99.6 154.5,99.6 154.9,100.4 155.3,99.4 155.7,98.9 156.1,99.4 156.5,96.7 156.9,97.1 157.3,97.9 157.7,98.4 158.1,100.8 158.5,101.5 158.9,100.9 159.3,102.3 159.7,101.1 160.1,102.2 160.5,101.3 160.9,102.0 161.3,101.2 161.7,101.9 162.1,102.7 162.5,102.3 162.9,102.7 163.3,102.8 163.7,102.9 164.1,102.5 164.5,102.4 164.9,100.0 165.3,100.2 165.7,99.7 166.1,97.2 166.5,95.9 166.9,97.6 167.3,97.8 167.7,99.1 168.1,100.1 168.5,100.7 168.9,100.9 169.3,101.5 169.7,101.7 170.1,100.4 170.5,99.9 170.9,98.6 171.3,98.6 171.7,93.2 172.1,85.1 172.5,68.4 172.9,42.8 173.3,18.4 173.7,10.6 174.1,27.6 174.5,53.5 174.9,75.9 175.3,88.5 175.7,93.0 176.1,94.9 176.5,96.1 176.9,95.8 177.3,96.1 177.7,94.5 178.1,94.9 178.5,94.0 178.9,93.3 179.3,92.3 179.7,90.9 180.1,88.5 180.5,88.0 180.9,86.4 181.3,85.1 181.7,85.4 182.1,82.6 182.5,74.5 182.9,58.6 183.3,54.7 183.7,65.2 184.1,71.6 184.5,67.5 184.9,74.0 185.3,85.8 185.7,94.0 186.1,95.4 186.5,97.8 186.9,98.5 187.3,98.4 187.7,100.6 188.1,101.9 188.5,103.0 188.9,103.1 189.3,103.4 189.7,104.0 190.1,104.0 190.5,103.0 190.9,103.4 191.3,103.0 191.7,102.6 192.1,103.5 192.5,101.9 192.9,102.8 193.3,102.0 193.7,101.5 194.1,101.7 194.5,102.9 194.9,102.7 195.3,102.6 195.7,102.5 196.1,103.4 196.5,102.5 196.9,101.6 197.3,102.2 197.7,103.0 198.1,102.0 198.5,102.6 198.9,101.8 199.3,102.7 199.7,102.3 200.1,102.8 200.5,101.4 200.9,101.2 201.3,99.8 201.7,97.7 202.1,96.5 202.5,97.2 202.9,97.4 203.3,100.0 203.7,99.9 204.1,100.8 204.5,101.9 204.9,101.4 205.3,101.6 205.7,101.7 206.1,102.3 206.5,100.6 206.9,101.1 207.3,100.6 207.7,102.1 208.1,101.5 208.5,100.5 208.9,102.3 209.3,101.4 209.7,102.0 210.1,100.6 210.5,101.1 210.9,100.5 211.3,100.9 211.7,102.2 212.1,102.8 212.5,101.8 212.9,103.1 213.3,103.0 213.7,102.9 214.1,103.4 214.5,105.1 214.9,104.4 215.3,105.3 215.7,104.6 216.1,105.8 216.5,104.5 216.9,105.0 217.3,104.3 217.7,106.0 218.1,106.8 218.5,105.7 218.9,106.1 219.3,105.3 219.7,106.1 220.1,105.0 220.5,105.7 220.9,106.7 221.3,106.1 221.7,105.6 222.1,106.1 222.5,105.2 222.9,105.8 223.3,106.1 223.7,106.6 224.1,106.3 224.5,105.6 224.9,106.6 225.3,107.4 225.7,106.4 226.1,105.7 226.5,105.8 226.9,106.2 227.3,106.7 227.7,106.2 228.1,106.7 228.5,106.8 228.9,105.7 229.3,106.9 229.7,105.9 230.1,107.6 230.5,106.6 230.9,105.4 231.3,105.4 231.7,106.4 232.1,105.0 232.5,105.9 232.9,104.8 233.3,104.2 233.7,104.0 234.1,105.6 234.5,104.4 234.9,104.4 235.3,104.4 235.7,104.6 236.1,105.1 236.5,105.0 236.9,104.5 237.3,104.7 237.7,104.3 238.1,103.7 238.5,104.2 238.9,102.8 239.3,102.9 239.7,103.1 240.1,102.8 240.5,103.1 240.9,102.7 241.3,101.9 241.7,101.9 242.1,101.6 242.5,100.4 242.9,98.3 243.3,97.6 243.7,97.9 244.1,98.9 244.5,101.3 244.9,102.2 245.3,102.8 245.7,102.7 246.1,103.3 246.5,103.7 246.9,104.2 247.3,104.7 247.7,104.7 248.1,104.5 248.5,104.7 248.9,105.1 249.3,105.4 249.7,103.1 249.9,100.0 250.1,96.3 250.2,92.5 250.3,89.7 250.5,89.3 250.7,91.8 250.8,94.6 250.9,97.5 251.1,101.3 251.3,103.3 251.7,104.2 252.1,106.4 252.5,106.4 252.9,106.1 253.3,106.9 253.7,105.7 254.1,105.3 254.5,105.9 254.9,106.3 255.3,105.0 255.7,106.6 256.1,105.7 256.5,105.1 256.9,106.4 257.3,105.8 257.7,105.6 258.1,105.3 258.5,104.5 258.9,105.8 259.3,105.7 259.7,105.8 260.1,106.5 260.5,105.7 260.9,106.2 261.3,107.1 261.7,106.0 262.1,105.1 262.5,105.4 262.9,106.9 263.3,106.5 263.7,107.7 264.1,108.0 264.5,106.7 264.9,107.7 265.3,107.7 265.7,106.6 266.1,108.8 266.5,108.5 266.9,107.5 267.3,109.1 267.7,107.9 268.1,108.5 268.5,108.9 268.9,109.0 269.3,109.0 269.7,108.7 270.1,108.9 270.5,108.3 270.9,108.1 271.3,107.7 271.7,105.8 271.8,105.9 272.1,101.8 272.2,101.4 272.4,101.6 272.5,101.3 272.6,101.4 272.7,101.8 272.9,104.1 273.0,105.7 273.3,106.4 273.7,109.0 274.1,109.1 274.5,108.7 274.9,108.3 275.3,108.3 275.7,108.0 276.1,108.0 276.5,109.0 276.9,108.0 277.3,109.3 277.7,108.7 278.1,107.4 278.5,106.1 278.9,105.2 279.3,106.3 279.7,108.0 280.1,108.3 280.5,107.7 280.9,107.9 281.3,109.5 281.7,109.1 282.1,108.7 282.5,108.4 282.9,108.9 283.3,108.2 283.7,108.9 284.1,108.8 284.5,108.4 284.9,109.3 285.3,109.2 285.7,109.3 286.1,109.5 286.5,108.5 286.9,108.9 287.3,109.5 287.7,109.7 288.1,109.9 288.5,109.3 288.9,107.9 289.3,108.1 289.7,108.8 290.1,109.3 290.5,109.1 290.9,109.8 291.3,109.6 291.7,109.7 292.1,108.5 292.5,109.2 292.9,108.4 293.3,107.4 293.7,108.8 294.1,108.9 294.5,107.0 294.9,105.0 295.3,101.8 295.7,99.9 296.1,101.8 296.5,104.9 296.9,108.0 297.3,108.7 297.7,108.6 298.1,108.5 298.5,106.9 298.9,107.6 299.3,107.8 299.7,108.9 300.1,109.1 300.5,109.1 300.9,108.2 301.3,108.6 301.7,109.0 302.1,108.9 302.5,108.9 302.9,107.8 303.3,109.3 303.7,109.2 304.1,109.3 304.5,109.6 304.9,109.0 305.3,108.7 305.7,109.1 306.1,108.2 306.5,108.9 306.9,108.8 307.3,109.7 307.7,109.0 308.1,108.2 308.5,108.6 308.9,109.6 309.3,107.9 309.7,108.8 310.1,110.2 310.5,109.7 310.9,108.2 311.3,109.9 311.7,110.1 312.1,109.4 312.5,108.5 312.9,110.0 313.3,108.2 313.7,109.4 314.1,108.3 314.5,108.9 314.9,108.8 315.3,110.5 315.7,108.8 316.1,110.2 316.5,108.8 316.9,109.1 317.3,108.6 317.7,109.8 318.1,108.6 318.5,109.8 318.9,109.4 319.3,109.1 319.7,108.2 320.1,107.4 320.5,105.0 320.9,103.2 321.3,103.3 321.7,105.1 322.1,107.3 322.5,108.5 322.9,109.3 323.3,109.4 323.7,109.4 324.1,108.7 324.5,108.3 324.9,108.8 325.3,109.4 325.7,108.4 326.1,109.0 326.5,109.6 326.9,108.8 327.3,108.6 327.7,109.9 328.1,109.9 328.5,109.7 328.9,109.5 329.3,110.5 329.7,110.9 330.1,110.3 330.5,110.1 330.9,110.4" fill="none" stroke="#a5a5a5" stroke-width="2.0" stroke-linejoin="round" stroke-linecap="round"/><rect x="171.8" y="32" width="3.9" height="93" fill="#c2ada0"/></g><g clip-path="url(#cxb)"><polyline points="22.0,331.1 22.4,330.5 22.8,331.5 23.2,332.3 23.6,332.9 24.0,333.5 24.4,333.5 24.8,334.7 25.2,334.8 25.6,335.1 26.0,336.6 26.4,336.5 26.8,337.4 27.2,337.4 27.6,336.9 28.0,337.7 28.4,339.1 28.8,339.3 29.2,340.2 29.6,340.1 30.0,340.9 30.4,341.8 30.8,340.3 31.2,340.5 31.6,340.3 32.0,341.6 32.4,341.7 32.8,340.9 33.2,341.0 33.6,342.5 34.0,341.3 34.4,341.7 34.8,343.4 35.2,342.5 35.6,342.8 36.0,344.0 36.4,342.8 36.8,343.3 37.2,343.6 37.6,345.3 38.0,345.4 38.4,345.3 38.8,345.0 39.2,345.4 39.6,344.2 40.0,344.9 40.4,346.0 40.8,344.3 41.2,345.4 41.6,344.8 42.0,346.4 42.4,345.4 42.8,346.3 43.2,345.9 43.6,345.4 44.0,345.8 44.4,346.2 44.8,347.7 45.2,346.8 45.6,346.7 46.0,347.0 46.4,348.1 46.8,346.1 47.2,346.3 47.6,347.5 48.0,347.4 48.4,348.0 48.8,346.8 49.2,348.5 49.6,347.7 50.0,348.8 50.4,348.1 50.8,347.7 51.2,348.1 51.6,347.5 52.0,347.6 52.4,348.5 52.8,349.2 53.2,349.0 53.6,349.1 54.0,348.6 54.4,349.7 54.8,349.1 55.2,349.9 55.6,349.9 56.0,349.3 56.4,349.5 56.8,349.8 57.2,349.8 57.6,349.3 58.0,349.2 58.4,349.7 58.8,350.2 59.2,349.6 59.6,350.7 60.0,350.2 60.4,349.2 60.8,349.0 61.2,350.9 61.6,351.1 62.0,349.6 62.4,349.9 62.8,350.6 63.2,349.8 63.6,350.4 64.0,350.3 64.4,349.8 64.8,350.4 65.2,349.9 65.6,350.6 66.0,350.9 66.4,350.5 66.8,351.0 67.2,351.4 67.6,350.7 68.0,351.0 68.4,352.2 68.8,351.7 69.2,351.9 69.6,351.6 70.0,352.9 70.4,352.0 70.8,350.9 71.2,352.1 71.6,351.9 72.0,351.3 72.4,351.6 72.8,351.5 73.2,353.1 73.6,352.2 74.0,353.3 74.4,352.7 74.8,351.5 75.2,352.0 75.6,353.7 76.0,353.7 76.4,352.7 76.8,352.2 77.2,353.2 77.6,351.6 78.0,351.3 78.4,352.8 78.8,353.6 79.2,354.2 79.6,353.7 80.0,353.1 80.4,354.2 80.8,354.1 81.2,353.8 81.6,353.3 82.0,353.0 82.4,352.7 82.8,353.4 83.2,353.9 83.6,353.9 84.0,355.0 84.4,354.3 84.8,354.6 85.2,354.0 85.6,355.1 86.0,354.2 86.4,354.8 86.8,355.7 87.2,354.3 87.6,355.0 88.0,355.4 88.4,356.0 88.8,355.9 89.2,354.8 89.6,356.4 90.0,355.5 90.4,354.7 90.8,356.1 91.2,354.3 91.6,354.4 92.0,356.0 92.4,355.0 92.8,355.0 93.2,356.7 93.6,356.9 94.0,356.5 94.4,355.7 94.8,357.0 95.2,357.0 95.6,356.9 96.0,355.2 96.4,356.0 96.8,355.5 97.2,355.5 97.6,357.0 98.0,357.1 98.4,355.7 98.8,355.7 99.2,357.5 99.6,355.8 100.0,357.4 100.4,356.8 100.8,356.7 101.2,357.2 101.6,357.1 102.0,357.3 102.4,356.7 102.8,357.4 103.2,357.4 103.6,355.6 104.0,356.9 104.4,356.7 104.8,357.0 105.2,357.1 105.6,356.6 106.0,356.3 106.4,356.3 106.8,355.9 107.2,355.7 107.6,358.0 108.0,357.1 108.4,355.9 108.8,357.5 109.2,357.9 109.6,356.5 110.0,356.7 110.4,357.7 110.8,357.8 111.2,356.1 111.6,357.4 112.0,356.1 112.4,357.3 112.8,356.5 113.2,355.7 113.6,356.2 114.0,355.6 114.4,357.2 114.8,356.5 115.2,357.4 115.6,357.5 116.0,356.1 116.4,357.4 116.8,356.3 117.2,356.4 117.6,356.1 118.0,357.0 118.4,357.2 118.8,357.1 119.2,357.1 119.6,357.9 120.0,356.4 120.4,356.8 120.8,356.8 121.2,357.4 121.6,356.7 122.0,357.3 122.4,357.1 122.8,356.0 123.2,356.4 123.6,356.0 124.0,355.5 124.4,356.0 124.8,356.6 125.2,357.1 125.6,356.3 126.0,356.9 126.4,355.9 126.8,354.6 127.2,354.8 127.6,345.0 127.7,339.9 128.0,315.1 128.2,304.2 128.3,299.7 128.4,301.2 128.4,303.7 128.6,314.5 128.8,331.2 128.9,338.6 129.2,351.3 129.6,354.7 130.0,355.2 130.4,355.1 130.8,355.5 131.2,355.9 131.6,356.6 132.0,356.7 132.4,357.1 132.8,356.3 133.2,356.6 133.6,356.5 134.0,356.3 134.4,356.0 134.8,356.4 135.2,356.6 135.6,356.0 136.0,353.6 136.4,350.5 136.8,346.3 137.2,345.7 137.6,349.0 138.0,351.5 138.4,355.1 138.8,355.5 139.2,355.2 139.6,355.8 140.0,356.6 140.4,355.2 140.8,356.1 141.2,354.4 141.6,354.4 142.0,355.3 142.4,355.1 142.8,355.3 143.2,355.9 143.6,355.4 144.0,355.5 144.4,354.4 144.8,354.9 145.2,353.1 145.6,353.4 146.0,353.1 146.4,354.4 146.8,355.1 147.2,353.5 147.6,353.4 148.0,352.7 148.4,352.6 148.8,351.2 149.2,350.6 149.6,348.8 150.0,349.4 150.4,349.5 150.8,351.5 151.2,352.8 151.6,353.4 152.0,354.3 152.4,353.3 152.8,354.4 153.2,353.8 153.6,354.0 154.0,354.7 154.4,354.8 154.8,354.9 155.2,353.5 155.6,354.3 156.0,353.9 156.4,352.2 156.8,352.3 157.2,352.8 157.6,354.2 158.0,354.9 158.4,356.4 158.8,357.4 159.2,357.5 159.6,357.5 160.0,356.7 160.4,356.3 160.8,356.7 161.2,357.1 161.6,357.9 162.0,357.9 162.4,357.2 162.8,357.1 163.2,358.3 163.6,357.9 164.0,357.6 164.4,356.4 164.8,356.4 165.2,354.1 165.6,352.7 166.0,352.5 166.4,350.6 166.8,350.7 167.2,353.6 167.6,353.6 168.0,354.0 168.4,353.9 168.8,354.5 169.2,354.1 169.6,352.6 170.0,351.0 170.4,348.7 170.8,339.2 171.2,320.7 171.6,288.5 172.0,242.8 172.4,205.1 172.8,206.2 173.2,241.5 173.6,284.9 174.0,317.7 174.4,335.8 174.8,341.4 175.2,344.8 175.6,345.9 176.0,344.8 176.4,345.1 176.8,345.6 177.2,344.2 177.6,344.0 178.0,343.7 178.4,342.7 178.8,340.5 179.2,336.8 179.6,333.7 180.0,332.8 180.4,333.2 180.8,336.4 181.2,337.3 181.6,338.3 182.0,337.7 182.4,335.5 182.8,334.4 183.2,331.9 183.6,331.7 184.0,333.1 184.4,337.4 184.8,341.4 185.2,341.6 185.6,344.3 186.0,344.8 186.4,346.2 186.8,347.3 187.2,348.4 187.6,348.6 188.0,350.0 188.4,350.7 188.8,352.6 189.2,354.2 189.6,353.9 190.0,355.5 190.4,355.9 190.8,354.7 191.2,354.2 191.6,354.2 192.0,354.9 192.4,354.4 192.8,353.7 193.2,350.4 193.6,348.1 194.0,344.8 194.4,343.0 194.8,345.4 195.2,346.8 195.6,350.7 196.0,352.1 196.4,352.5 196.8,352.9 197.2,354.2 197.6,354.9 198.0,354.7 198.4,353.4 198.8,355.3 199.2,354.6 199.6,355.4 200.0,355.6 200.4,356.0 200.8,354.4 201.2,355.1 201.6,354.6 202.0,353.8 202.4,354.9 202.8,355.4 203.2,354.6 203.6,354.7 204.0,354.8 204.4,355.6 204.8,355.2 205.2,355.2 205.6,354.9 206.0,353.7 206.4,354.9 206.8,353.7 207.2,353.4 207.6,355.2 208.0,354.8 208.4,355.7 208.8,355.6 209.2,357.9 209.6,356.5 210.0,357.5 210.4,357.7 210.8,358.4 211.2,357.2 211.6,358.5 212.0,358.2 212.4,359.0 212.8,359.3 213.2,359.1 213.6,357.9 214.0,358.0 214.4,358.8 214.8,358.6 215.2,360.3 215.6,360.9 216.0,360.0 216.4,360.3 216.8,358.9 217.2,359.5 217.6,359.1 218.0,359.4 218.4,361.2 218.8,359.3 219.2,359.2 219.6,359.4 220.0,360.2 220.4,361.2 220.8,360.5 221.2,361.0 221.6,361.7 222.0,361.7 222.4,360.1 222.8,361.3 223.2,361.6 223.6,361.8 224.0,361.1 224.4,362.6 224.8,361.3 225.2,362.5 225.6,361.3 226.0,361.5 226.4,361.2 226.8,360.3 227.2,361.7 227.6,361.3 228.0,361.1 228.4,362.3 228.8,360.3 229.2,361.0 229.6,362.2 230.0,362.2 230.4,362.4 230.8,361.6 231.2,361.6 231.6,361.8 232.0,361.7 232.4,361.8 232.8,362.5 233.2,362.9 233.6,361.7 234.0,361.7 234.4,361.4 234.8,361.2 235.2,362.7 235.6,362.3 236.0,361.6 236.4,362.5 236.8,361.4 237.2,361.0 237.6,360.4 238.0,360.2 238.4,360.9 238.8,361.2 239.2,360.3 239.6,361.3 240.0,361.1 240.4,359.7 240.8,359.7 241.2,359.2 241.6,359.6 242.0,358.7 242.4,357.5 242.8,356.5 243.2,355.9 243.6,356.5 244.0,356.7 244.4,356.0 244.8,358.6 245.2,358.5 245.6,359.0 246.0,359.8 246.4,359.9 246.8,360.2 247.2,360.6 247.6,361.5 248.0,360.9 248.4,359.4 248.8,357.9 249.2,354.2 249.6,346.9 250.0,344.9 250.4,348.0 250.8,354.5 251.2,359.9 251.6,360.5 252.0,360.8 252.4,362.2 252.8,361.9 253.2,362.4 253.6,363.0 254.0,362.4 254.4,362.9 254.8,363.8 255.2,362.4 255.6,364.4 256.0,363.7 256.4,364.5 256.8,363.4 257.2,364.1 257.6,364.5 258.0,364.2 258.4,365.8 258.8,364.2 259.2,365.2 259.6,365.0 260.0,363.9 260.4,364.0 260.8,364.5 261.2,364.7 261.6,364.1 262.0,365.1 262.4,365.4 262.8,364.5 263.2,364.5 263.6,365.7 264.0,365.3 264.4,364.7 264.8,366.3 265.2,365.8 265.6,366.7 266.0,365.6 266.4,365.9 266.8,366.1 267.2,366.1 267.6,364.8 268.0,365.0 268.4,364.9 268.8,365.8 269.2,366.1 269.6,364.5 270.0,365.2 270.4,364.7 270.8,365.3 271.2,363.1 271.6,362.7 271.9,359.1 272.0,356.6 272.2,353.1 272.4,348.5 272.4,348.4 272.5,348.9 272.6,349.7 272.8,352.7 273.1,357.7 273.2,358.9 273.6,362.6 274.0,363.1 274.4,364.1 274.8,362.9 275.2,364.1 275.6,364.8 276.0,363.4 276.4,364.9 276.8,363.7 277.2,364.5 277.6,363.2 278.0,363.6 278.4,361.5 278.8,360.0 279.2,360.8 279.6,360.0 280.0,361.6 280.4,363.3 280.8,365.0 281.2,363.8 281.6,364.4 282.0,363.5 282.4,364.9 282.8,363.7 283.2,363.9 283.6,365.0 284.0,365.3 284.4,363.6 284.8,363.3 285.2,364.4 285.6,364.3 286.0,364.5 286.4,364.7 286.8,363.8 287.2,364.3 287.6,363.4 288.0,364.3 288.4,364.3 288.8,363.1 289.2,363.9 289.6,363.0 290.0,361.3 290.4,359.6 290.8,358.3 291.2,357.8 291.6,359.6 292.0,360.8 292.4,361.4 292.8,363.2 293.2,363.5 293.6,363.0 294.0,363.0 294.4,361.0 294.8,360.0 295.2,356.8 295.6,356.4 296.0,357.5 296.4,359.2 296.8,360.9 297.2,362.1 297.6,362.3 298.0,363.1 298.4,363.3 298.8,363.8 299.2,364.8 299.6,364.8 300.0,364.9 300.4,364.9 300.8,364.1 301.2,365.4 301.6,364.6 302.0,364.0 302.4,364.2 302.8,365.5 303.2,365.8 303.6,364.5 304.0,366.0 304.4,365.2 304.8,365.1 305.2,365.2 305.6,365.1 306.0,364.2 306.4,364.3 306.8,365.1 307.2,364.8 307.6,365.5 308.0,365.0 308.4,364.3 308.8,364.1 309.2,364.9 309.6,364.8 310.0,363.9 310.4,364.7 310.8,363.9 311.2,363.1 311.6,363.9 312.0,364.7 312.4,363.0 312.8,363.7 313.2,364.2 313.6,364.7 314.0,365.7 314.4,365.8 314.8,366.4 315.2,366.3 315.6,364.5 316.0,365.7 316.4,364.7 316.8,366.1 317.2,366.1 317.6,366.3 318.0,365.9 318.4,365.0 318.8,365.0 319.2,365.4 319.6,366.7 320.0,366.9 320.4,364.7 320.8,364.0 321.2,362.5 321.6,361.3 322.0,361.9 322.4,363.0 322.8,365.8 323.2,366.2 323.6,365.8 324.0,366.1 324.4,365.8 324.8,366.1 325.2,366.2 325.6,366.9 326.0,367.2 326.4,366.1 326.8,367.0 327.2,365.4 327.6,366.2 328.0,366.9 328.4,366.9 328.8,366.3 329.2,366.6 329.6,365.8 330.0,366.1 330.4,367.4 330.8,367.7" fill="none" stroke="#7f6000" stroke-width="2.0" stroke-linejoin="round" stroke-linecap="round"/><polyline points="22.0,293.9 22.4,295.0 22.8,295.6 23.2,294.8 23.6,296.1 24.0,295.8 24.4,296.4 24.8,297.6 25.2,297.1 25.6,299.0 26.0,298.3 26.4,298.9 26.8,299.3 27.2,300.8 27.6,299.9 28.0,302.1 28.4,302.5 28.8,302.4 29.2,303.2 29.6,303.9 30.0,303.3 30.4,303.0 30.8,302.7 31.2,303.9 31.6,304.0 32.0,303.5 32.4,304.4 32.8,304.5 33.2,304.0 33.6,304.4 34.0,306.3 34.4,305.9 34.8,305.6 35.2,304.4 35.6,306.3 36.0,306.1 36.4,307.2 36.8,306.1 37.2,307.1 37.6,307.0 38.0,307.7 38.4,307.8 38.8,306.6 39.2,308.2 39.6,308.3 40.0,307.4 40.4,307.2 40.8,307.0 41.2,309.1 41.6,307.1 42.0,308.7 42.4,308.1 42.8,309.4 43.2,308.7 43.6,309.4 44.0,308.5 44.4,308.3 44.8,310.3 45.2,310.1 45.6,309.2 46.0,309.9 46.4,309.2 46.8,310.6 47.2,310.2 47.6,310.7 48.0,309.8 48.4,309.6 48.8,311.3 49.2,311.0 49.6,310.4 50.0,310.1 50.4,311.6 50.8,311.4 51.2,311.5 51.6,311.8 52.0,311.6 52.4,311.0 52.8,311.8 53.2,312.2 53.6,311.7 54.0,311.3 54.4,311.6 54.8,312.1 55.2,312.3 55.6,312.0 56.0,312.7 56.4,312.7 56.8,312.7 57.2,313.6 57.6,312.6 58.0,313.0 58.4,312.7 58.8,313.3 59.2,312.3 59.6,313.3 60.0,313.0 60.4,313.7 60.8,313.7 61.2,312.2 61.6,313.3 62.0,313.3 62.4,312.3 62.8,312.8 63.2,312.4 63.6,312.6 64.0,312.3 64.4,313.3 64.8,313.9 65.2,314.5 65.6,313.3 66.0,313.5 66.4,314.3 66.8,313.0 67.2,313.4 67.6,314.1 68.0,315.5 68.4,314.7 68.8,315.4 69.2,314.2 69.6,315.2 70.0,316.3 70.4,315.1 70.8,314.6 71.2,315.4 71.6,314.7 72.0,316.4 72.4,315.4 72.8,315.0 73.2,315.7 73.6,317.1 74.0,315.8 74.4,316.5 74.8,316.0 75.2,316.7 75.6,316.4 76.0,316.4 76.4,315.9 76.8,317.3 77.2,316.4 77.6,317.3 78.0,316.3 78.4,316.1 78.8,316.9 79.2,317.3 79.6,317.6 80.0,316.8 80.4,317.3 80.8,317.3 81.2,317.6 81.6,317.3 82.0,318.0 82.4,317.0 82.8,318.4 83.2,318.1 83.6,318.2 84.0,317.9 84.4,318.3 84.8,318.9 85.2,317.9 85.6,317.8 86.0,318.9 86.4,318.7 86.8,318.2 87.2,318.9 87.6,318.0 88.0,318.8 88.4,318.4 88.8,318.7 89.2,318.0 89.6,319.4 90.0,319.4 90.4,319.2 90.8,320.3 91.2,318.5 91.6,319.0 92.0,320.5 92.4,319.0 92.8,320.3 93.2,319.5 93.6,318.7 94.0,318.7 94.4,319.1 94.8,318.4 95.2,320.1 95.6,319.3 96.0,319.6 96.4,320.1 96.8,320.2 97.2,320.4 97.6,320.2 98.0,320.9 98.4,320.5 98.8,320.3 99.2,320.7 99.6,319.6 100.0,320.0 100.4,320.0 100.8,321.1 101.2,320.7 101.6,319.5 102.0,319.9 102.4,320.8 102.8,321.2 103.2,320.8 103.6,319.4 104.0,321.0 104.4,319.7 104.8,321.2 105.2,320.3 105.6,320.7 106.0,320.4 106.4,320.5 106.8,320.0 107.2,321.2 107.6,320.9 108.0,321.2 108.4,321.2 108.8,320.9 109.2,319.8 109.6,319.6 110.0,320.9 110.4,320.1 110.8,321.7 111.2,320.8 111.6,320.1 112.0,319.9 112.4,320.4 112.8,320.3 113.2,320.3 113.6,320.1 114.0,320.5 114.4,321.2 114.8,321.3 115.2,321.1 115.6,321.7 116.0,320.9 116.4,320.9 116.8,320.2 117.2,319.7 117.6,319.8 118.0,321.6 118.4,320.3 118.8,320.3 119.2,321.4 119.6,320.2 120.0,321.8 120.4,320.9 120.8,320.4 121.2,321.5 121.6,320.0 122.0,321.9 122.4,320.7 122.8,319.9 123.2,321.1 123.6,320.5 124.0,320.1 124.4,320.1 124.8,320.6 125.2,319.8 125.6,321.4 126.0,320.4 126.4,320.5 126.8,319.8 127.2,320.0 127.6,320.0 128.0,315.9 128.2,310.5 128.4,301.6 128.5,296.5 128.7,290.6 128.8,286.8 128.9,289.4 129.1,295.9 129.2,301.7 129.4,310.2 129.6,315.2 130.0,318.8 130.4,320.5 130.8,319.6 131.2,320.0 131.6,320.3 132.0,320.0 132.4,320.5 132.8,321.3 133.2,321.8 133.6,321.7 134.0,322.0 134.4,322.3 134.8,321.9 135.2,321.9 135.6,320.4 136.0,320.3 136.4,321.3 136.8,320.0 137.2,321.4 137.6,320.1 138.0,320.6 138.4,322.2 138.8,320.9 139.2,321.1 139.6,320.3 140.0,322.0 140.4,320.7 140.8,320.9 141.2,321.5 141.6,322.5 142.0,321.1 142.4,321.7 142.8,321.5 143.2,322.7 143.6,322.7 144.0,320.9 144.4,321.7 144.8,322.4 145.2,321.4 145.6,322.2 146.0,320.9 146.4,320.8 146.8,321.3 147.2,321.3 147.6,321.2 148.0,322.7 148.4,322.4 148.8,321.3 149.2,322.1 149.6,321.1 150.0,321.9 150.4,321.3 150.8,321.8 151.2,322.9 151.6,322.8 152.0,321.0 152.4,322.2 152.8,321.6 153.2,320.8 153.6,321.5 154.0,322.3 154.4,322.8 154.8,323.0 155.2,322.6 155.6,322.8 156.0,322.3 156.4,322.3 156.8,321.2 157.2,321.5 157.6,322.5 158.0,321.9 158.4,322.1 158.8,321.7 159.2,323.0 159.6,323.6 160.0,323.4 160.4,322.9 160.8,322.4 161.2,322.1 161.6,323.0 162.0,321.6 162.4,321.8 162.8,323.4 163.2,323.0 163.6,321.8 164.0,322.8 164.4,322.5 164.8,322.3 165.2,322.1 165.6,323.4 166.0,322.6 166.4,322.0 166.8,322.3 167.2,323.2 167.6,322.4 168.0,322.4 168.4,322.1 168.8,322.3 169.2,321.5 169.6,320.7 170.0,321.3 170.4,319.5 170.8,319.3 171.2,316.6 171.6,308.1 172.0,292.2 172.4,262.0 172.8,225.9 173.2,201.4 173.6,209.8 174.0,241.9 174.4,275.9 174.8,300.1 175.2,311.8 175.6,316.9 176.0,318.5 176.4,319.8 176.8,319.7 177.2,317.2 177.6,316.7 178.0,317.1 178.4,318.5 178.8,318.6 179.2,319.7 179.6,320.6 180.0,321.3 180.4,322.2 180.8,321.0 181.2,322.6 181.6,321.2 182.0,321.7 182.4,323.2 182.8,321.9 183.2,322.8 183.6,322.9 184.0,322.3 184.4,323.0 184.8,322.5 185.2,323.0 185.6,322.1 186.0,322.6 186.4,323.4 186.8,324.2 187.2,322.9 187.6,322.6 188.0,323.6 188.4,323.1 188.8,323.5 189.2,323.0 189.6,324.8 190.0,323.9 190.4,323.3 190.8,324.6 191.2,323.4 191.6,324.7 192.0,324.3 192.4,324.7 192.8,323.5 193.2,324.6 193.6,324.8 194.0,325.2 194.4,325.2 194.8,325.2 195.2,324.6 195.6,325.0 196.0,323.9 196.4,323.9 196.8,323.8 197.2,323.6 197.6,324.0 198.0,323.6 198.4,325.0 198.8,323.1 199.2,325.3 199.6,323.6 200.0,324.9 200.4,323.5 200.8,324.0 201.2,324.5 201.6,324.5 202.0,323.8 202.4,324.7 202.8,323.1 203.2,323.8 203.6,323.9 204.0,325.0 204.4,324.0 204.8,323.7 205.2,323.0 205.6,323.7 206.0,322.7 206.4,320.7 206.8,319.1 207.2,315.4 207.6,312.7 208.0,311.6 208.4,314.0 208.8,317.9 209.2,319.7 209.6,322.7 210.0,324.3 210.4,323.0 210.8,323.3 211.2,324.6 211.6,323.9 212.0,324.1 212.4,325.1 212.8,323.9 213.2,324.5 213.6,324.2 214.0,323.3 214.4,323.6 214.8,324.4 215.2,325.4 215.6,324.6 216.0,325.6 216.4,325.5 216.8,324.7 217.2,325.4 217.6,325.2 218.0,324.6 218.4,325.9 218.8,324.5 219.2,325.9 219.6,325.3 220.0,325.5 220.4,326.6 220.8,325.9 221.2,325.9 221.6,326.7 222.0,325.2 222.4,326.6 222.8,327.2 223.2,326.7 223.6,326.1 224.0,326.6 224.4,325.9 224.8,327.2 225.2,327.4 225.6,326.6 226.0,327.9 226.4,326.2 226.8,326.2 227.2,327.4 227.6,326.8 228.0,327.3 228.4,327.5 228.8,328.5 229.2,327.0 229.6,327.7 230.0,328.2 230.4,328.0 230.8,329.0 231.2,327.3 231.6,327.7 232.0,327.9 232.4,328.7 232.8,328.0 233.2,328.5 233.6,328.7 234.0,328.9 234.4,329.3 234.8,328.7 235.2,328.2 235.6,328.2 236.0,327.3 236.4,328.3 236.8,327.8 237.2,327.7 237.6,329.2 238.0,328.7 238.4,328.0 238.8,327.0 239.2,327.6 239.6,327.7 240.0,329.0 240.4,327.1 240.8,327.2 241.2,327.0 241.6,328.1 242.0,327.2 242.4,328.5 242.8,326.7 243.2,328.0 243.6,327.3 244.0,326.8 244.4,327.1 244.8,325.5 245.2,326.4 245.6,326.9 246.0,325.7 246.4,325.7 246.8,324.6 247.2,324.7 247.6,323.2 248.0,323.5 248.4,321.8 248.8,316.3 249.2,311.2 249.6,305.3 250.0,298.3 250.4,294.3 250.8,295.3 251.2,301.7 251.6,309.1 252.0,315.6 252.4,320.6 252.8,324.9 253.2,325.2 253.6,326.0 254.0,327.0 254.4,326.9 254.8,328.3 255.2,326.9 255.6,327.8 256.0,328.6 256.4,328.8 256.8,327.9 257.2,328.3 257.6,328.6 258.0,327.8 258.4,327.3 258.8,329.0 259.2,327.7 259.6,328.4 260.0,327.5 260.4,329.2 260.8,328.9 261.2,328.2 261.6,328.0 262.0,327.3 262.4,328.7 262.8,328.7 263.2,328.2 263.6,328.5 264.0,329.2 264.4,329.0 264.8,327.8 265.2,328.0 265.6,327.3 266.0,327.7 266.4,328.2 266.8,328.4 267.2,327.4 267.6,328.9 268.0,328.9 268.4,328.5 268.8,328.4 269.2,328.3 269.6,327.2 270.0,327.0 270.4,326.7 270.8,326.1 271.2,326.3 271.6,326.9 272.0,325.8 272.4,327.0 272.8,321.8 273.1,316.6 273.2,314.0 273.2,314.8 273.4,314.3 273.6,315.2 273.6,316.4 273.7,317.2 274.0,323.3 274.4,327.8 274.8,327.6 275.2,327.9 275.6,329.2 276.0,328.5 276.4,328.5 276.8,328.7 277.2,327.8 277.6,327.4 278.0,327.6 278.4,324.1 278.5,324.9 278.8,319.1 278.9,316.8 279.1,315.4 279.2,316.7 279.2,317.3 279.4,319.6 279.6,323.5 279.7,324.1 280.0,327.6 280.4,328.7 280.8,329.9 281.2,329.1 281.6,329.4 282.0,328.5 282.4,329.4 282.8,330.2 283.2,329.4 283.6,329.2 284.0,329.0 284.4,330.8 284.8,329.1 285.2,329.9 285.6,329.2 286.0,329.7 286.4,329.9 286.8,329.2 287.2,329.1 287.6,329.7 288.0,329.5 288.4,329.5 288.8,329.5 289.2,330.2 289.6,330.7 290.0,330.3 290.4,330.7 290.8,329.2 291.2,329.3 291.6,330.1 292.0,330.0 292.4,330.4 292.8,330.5 293.2,330.0 293.6,329.3 294.0,330.7 294.4,329.5 294.8,329.8 295.2,328.2 295.6,322.8 295.9,317.4 296.0,314.4 296.1,314.3 296.2,313.2 296.4,313.7 296.4,314.2 296.5,317.0 296.8,324.6 297.2,329.4 297.6,329.5 298.0,329.9 298.4,330.2 298.8,330.1 299.2,330.8 299.6,330.5 300.0,329.3 300.4,330.5 300.8,329.4 301.2,329.3 301.6,329.5 302.0,329.6 302.4,329.5 302.8,328.8 303.2,329.5 303.6,328.5 304.0,329.2 304.4,329.8 304.8,328.7 305.2,329.1 305.6,329.4 306.0,328.3 306.4,328.3 306.8,327.6 307.2,329.4 307.6,328.6 308.0,327.8 308.4,329.5 308.8,328.2 309.2,327.7 309.6,329.5 310.0,329.6 310.4,328.0 310.8,326.9 311.2,325.5 311.6,325.8 312.0,325.0 312.4,327.1 312.8,328.0 313.2,328.9 313.6,329.6 314.0,328.9 314.4,330.0 314.8,329.3 315.2,330.0 315.6,330.9 316.0,331.7 316.4,330.8 316.8,330.7 317.2,331.9 317.6,330.9 318.0,330.0 318.4,330.6 318.8,330.4 319.2,330.2 319.6,331.2 320.0,331.4 320.4,331.6 320.8,330.6 321.2,329.9 321.5,327.8 321.6,326.5 321.8,322.8 321.9,322.3 322.0,322.2 322.1,321.5 322.2,322.9 322.4,323.7 322.7,327.5 322.8,327.7 323.2,330.7 323.6,330.6 324.0,331.5 324.4,330.5 324.8,330.8 325.2,331.4 325.6,331.0 326.0,331.2 326.4,331.1 326.8,332.2 327.2,331.1 327.6,331.4 328.0,332.1 328.4,332.0 328.8,331.4 329.2,332.8 329.6,332.4 330.0,333.5 330.4,331.7 330.8,332.9" fill="none" stroke="#636363" stroke-width="2.0" stroke-linejoin="round" stroke-linecap="round"/><polyline points="22.0,267.5 22.4,268.2 22.8,269.0 23.2,270.8 23.6,270.4 24.0,271.0 24.4,270.9 24.8,272.9 25.2,273.6 25.6,273.1 26.0,274.3 26.4,275.3 26.8,274.3 27.2,275.8 27.6,275.1 28.0,275.2 28.4,277.4 28.8,276.5 29.2,277.6 29.6,278.6 30.0,277.9 30.4,278.1 30.8,277.7 31.2,277.6 31.6,278.6 32.0,278.5 32.4,278.4 32.8,278.7 33.2,278.8 33.6,279.2 34.0,280.2 34.4,279.8 34.8,279.5 35.2,279.5 35.6,280.7 36.0,280.1 36.4,280.4 36.8,280.9 37.2,282.1 37.6,282.4 38.0,280.9 38.4,282.5 38.8,282.9 39.2,282.9 39.6,281.6 40.0,281.7 40.4,283.4 40.8,281.5 41.2,281.7 41.6,282.5 42.0,282.0 42.4,283.1 42.8,282.2 43.2,282.3 43.6,282.6 44.0,283.1 44.4,284.1 44.8,283.2 45.2,283.5 45.6,284.1 46.0,283.7 46.4,283.5 46.8,284.5 47.2,284.2 47.6,283.5 48.0,283.5 48.4,284.8 48.8,283.2 49.2,284.8 49.6,285.0 50.0,285.7 50.4,286.0 50.8,284.5 51.2,285.9 51.6,286.3 52.0,285.7 52.4,285.9 52.8,285.9 53.2,286.3 53.6,286.5 54.0,285.2 54.4,287.3 54.8,285.4 55.2,285.8 55.6,287.1 56.0,285.6 56.4,286.5 56.8,287.4 57.2,285.4 57.6,285.8 58.0,286.2 58.4,287.7 58.8,287.4 59.2,286.8 59.6,287.1 60.0,288.1 60.4,287.4 60.8,286.0 61.2,287.1 61.6,287.7 62.0,286.9 62.4,287.5 62.8,287.8 63.2,286.7 63.6,287.4 64.0,287.5 64.4,287.6 64.8,287.2 65.2,287.9 65.6,288.1 66.0,288.7 66.4,287.3 66.8,287.8 67.2,288.9 67.6,288.7 68.0,288.7 68.4,287.2 68.8,287.8 69.2,289.1 69.6,287.5 70.0,288.5 70.4,288.9 70.8,287.7 71.2,289.2 71.6,289.1 72.0,289.3 72.4,289.4 72.8,289.8 73.2,289.9 73.6,289.7 74.0,289.6 74.4,288.6 74.8,289.3 75.2,288.9 75.6,288.6 76.0,289.1 76.4,289.7 76.8,289.7 77.2,289.2 77.6,290.8 78.0,290.1 78.4,289.4 78.8,288.6 79.2,290.8 79.6,291.1 80.0,290.1 80.4,290.7 80.8,291.5 81.2,291.7 81.6,290.7 82.0,291.0 82.4,291.3 82.8,291.3 83.2,290.7 83.6,291.2 84.0,290.1 84.4,290.8 84.8,291.8 85.2,290.6 85.6,290.6 86.0,289.9 86.4,290.8 86.8,291.1 87.2,291.7 87.6,290.3 88.0,291.6 88.4,292.0 88.8,290.8 89.2,290.4 89.6,291.7 90.0,291.8 90.4,290.5 90.8,291.9 91.2,291.4 91.6,291.3 92.0,291.1 92.4,290.8 92.8,290.3 93.2,290.4 93.6,292.0 94.0,291.8 94.4,291.9 94.8,292.5 95.2,292.3 95.6,292.2 96.0,292.0 96.4,291.2 96.8,292.0 97.2,291.0 97.6,291.5 98.0,292.2 98.4,291.8 98.8,291.8 99.2,292.4 99.6,292.4 100.0,290.8 100.4,292.6 100.8,291.9 101.2,292.3 101.6,292.4 102.0,292.6 102.4,293.3 102.8,292.9 103.2,292.6 103.6,292.2 104.0,291.9 104.4,293.1 104.8,291.4 105.2,291.9 105.6,292.8 106.0,293.0 106.4,292.0 106.8,293.3 107.2,293.4 107.6,293.0 108.0,292.6 108.4,292.4 108.8,292.7 109.2,292.3 109.6,291.8 110.0,291.2 110.4,293.2 110.8,291.7 111.2,293.4 111.6,291.6 112.0,292.9 112.4,291.7 112.8,291.7 113.2,291.8 113.6,293.1 114.0,293.2 114.4,292.1 114.8,291.5 115.2,293.3 115.6,293.3 116.0,292.7 116.4,293.0 116.8,291.8 117.2,292.9 117.6,292.1 118.0,292.5 118.4,293.4 118.8,292.7 119.2,292.3 119.6,291.6 120.0,292.9 120.4,292.5 120.8,292.9 121.2,291.1 121.6,292.8 122.0,293.1 122.4,291.6 122.8,292.3 123.2,292.1 123.6,293.2 124.0,293.2 124.4,292.4 124.8,293.3 125.2,292.9 125.6,292.6 126.0,292.5 126.4,291.4 126.8,291.5 127.2,292.9 127.6,291.8 128.0,291.5 128.4,291.6 128.6,288.2 128.8,275.8 128.9,266.9 129.1,249.2 129.2,238.4 129.3,247.8 129.5,265.9 129.6,276.5 129.8,288.2 130.0,289.9 130.4,291.2 130.8,291.6 131.2,292.2 131.6,293.0 132.0,292.4 132.4,293.8 132.8,291.7 133.2,293.2 133.6,293.7 134.0,292.0 134.4,293.2 134.8,292.0 135.2,292.7 135.6,292.6 136.0,291.6 136.4,293.3 136.8,292.0 137.2,292.8 137.6,293.0 138.0,293.3 138.4,293.1 138.8,293.1 139.2,292.0 139.6,293.4 140.0,291.6 140.4,291.9 140.8,292.0 141.2,291.9 141.6,292.8 142.0,293.5 142.4,292.4 142.8,292.7 143.2,292.3 143.6,292.2 144.0,291.9 144.4,293.0 144.8,292.3 145.2,293.1 145.6,293.1 146.0,291.9 146.4,293.5 146.8,292.9 147.2,291.6 147.6,293.1 148.0,292.0 148.4,292.0 148.8,292.5 149.2,290.8 149.6,290.3 150.0,291.2 150.4,290.2 150.8,290.5 151.2,291.2 151.6,293.3 152.0,292.2 152.4,294.0 152.8,292.4 153.2,292.4 153.6,292.7 154.0,292.9 154.4,293.1 154.8,293.0 155.2,292.2 155.6,292.3 156.0,293.2 156.4,292.4 156.8,292.9 157.2,292.9 157.6,293.4 158.0,293.0 158.4,292.6 158.8,292.5 159.2,293.1 159.6,292.6 160.0,292.6 160.4,293.5 160.8,293.4 161.2,292.7 161.6,294.0 162.0,294.6 162.4,293.2 162.8,293.0 163.2,292.9 163.6,293.1 164.0,292.9 164.4,293.0 164.8,294.2 165.2,293.8 165.6,291.5 166.0,290.7 166.4,290.4 166.8,287.7 167.2,285.3 167.6,286.0 168.0,285.3 168.4,287.6 168.8,287.4 169.2,288.4 169.6,287.9 170.0,288.9 170.4,288.9 170.8,287.8 171.2,286.4 171.6,281.2 172.0,272.7 172.4,257.0 172.8,233.5 173.2,209.3 173.6,199.2 174.0,209.2 174.4,232.2 174.8,256.1 175.2,271.8 175.6,281.9 176.0,285.5 176.4,286.4 176.8,287.1 177.2,287.1 177.6,287.6 178.0,288.2 178.4,289.3 178.8,288.1 179.2,288.7 179.6,288.2 180.0,286.5 180.4,287.6 180.8,286.8 181.2,288.3 181.6,288.7 182.0,288.5 182.4,288.6 182.8,288.5 183.2,288.5 183.6,289.4 184.0,289.8 184.4,290.7 184.8,291.4 185.2,291.4 185.6,290.9 186.0,291.8 186.4,292.2 186.8,291.4 187.2,291.5 187.6,291.7 188.0,293.0 188.4,292.0 188.8,292.5 189.2,291.4 189.6,292.9 190.0,291.6 190.4,290.7 190.8,291.9 191.2,290.9 191.6,290.7 192.0,290.7 192.4,290.3 192.8,290.5 193.2,290.4 193.6,290.0 194.0,288.7 194.4,282.9 194.8,271.9 195.2,261.7 195.6,266.5 196.0,279.5 196.4,286.1 196.8,289.8 197.2,290.0 197.6,291.9 198.0,292.8 198.4,293.1 198.8,292.5 199.2,293.7 199.6,291.9 200.0,292.4 200.4,293.0 200.8,293.0 201.2,292.8 201.6,293.0 202.0,292.9 202.4,294.1 202.8,294.2 203.2,293.1 203.6,294.9 204.0,294.7 204.4,294.3 204.8,294.5 205.2,294.8 205.6,293.1 206.0,292.9 206.4,292.9 206.8,293.2 207.2,294.3 207.6,294.0 208.0,293.0 208.4,292.6 208.8,293.5 209.2,292.9 209.6,292.9 210.0,292.6 210.4,294.5 210.8,293.9 211.2,292.4 211.6,293.8 212.0,293.6 212.4,292.9 212.8,293.8 213.2,294.2 213.6,295.1 214.0,295.1 214.4,294.9 214.8,294.1 215.2,295.6 215.6,296.2 216.0,295.3 216.4,294.8 216.8,295.5 217.2,295.7 217.6,295.2 218.0,294.8 218.4,294.6 218.8,295.1 219.2,295.1 219.6,295.1 220.0,295.2 220.4,294.7 220.8,294.8 221.2,295.1 221.6,294.5 222.0,294.2 222.4,294.5 222.8,292.1 223.2,293.1 223.6,293.5 224.0,294.7 224.4,294.5 224.8,296.8 225.2,296.7 225.6,296.6 226.0,297.1 226.4,296.8 226.8,296.3 227.2,296.8 227.6,296.4 228.0,295.6 228.4,296.2 228.8,297.8 229.2,296.2 229.6,297.5 230.0,295.9 230.4,296.4 230.8,297.4 231.2,297.7 231.6,297.8 232.0,296.5 232.4,297.5 232.8,296.6 233.2,296.4 233.6,296.4 234.0,296.6 234.4,296.1 234.8,296.5 235.2,297.0 235.6,297.2 236.0,296.1 236.4,296.7 236.8,297.4 237.2,297.2 237.6,296.2 238.0,296.1 238.4,296.6 238.8,297.0 239.2,297.4 239.6,297.0 240.0,297.6 240.4,296.7 240.8,296.5 241.2,296.8 241.6,297.1 242.0,295.6 242.4,296.4 242.8,297.3 243.2,295.8 243.6,295.7 244.0,295.1 244.4,295.8 244.8,295.1 245.2,293.8 245.6,293.5 246.0,293.5 246.4,292.9 246.8,293.1 247.2,293.8 247.6,293.8 248.0,294.6 248.4,294.2 248.8,294.1 249.2,294.3 249.6,292.4 249.9,288.4 250.0,286.3 250.2,282.0 250.3,278.3 250.4,277.9 250.5,277.7 250.7,279.5 250.8,282.3 251.1,288.4 251.2,288.8 251.6,293.3 252.0,294.6 252.4,294.4 252.8,295.0 253.2,295.6 253.6,294.2 254.0,294.5 254.4,295.7 254.8,295.2 255.2,295.1 255.6,297.3 256.0,296.0 256.4,298.0 256.8,297.5 257.2,297.6 257.6,298.5 258.0,299.1 258.4,299.7 258.8,299.9 259.2,300.0 259.6,298.4 260.0,299.9 260.4,299.8 260.8,299.2 261.2,299.9 261.6,299.3 262.0,299.7 262.4,298.9 262.8,299.6 263.2,300.4 263.6,299.8 264.0,300.0 264.4,299.5 264.8,300.3 265.2,300.0 265.6,300.4 266.0,299.1 266.4,299.9 266.8,298.9 267.2,299.6 267.6,298.4 268.0,299.1 268.4,299.4 268.8,298.4 269.2,298.4 269.6,297.5 270.0,297.5 270.4,297.7 270.8,298.5 271.2,297.5 271.6,298.3 272.0,299.0 272.4,296.9 272.8,292.9 273.1,285.8 273.2,283.3 273.2,281.0 273.4,280.4 273.6,282.2 273.6,282.1 273.7,284.2 274.0,293.2 274.4,297.2 274.8,299.1 275.2,299.0 275.6,299.2 276.0,297.6 276.4,298.8 276.8,299.1 277.2,299.2 277.6,299.1 278.0,298.7 278.4,299.7 278.8,297.1 278.9,296.4 279.2,294.2 279.4,292.7 279.5,293.8 279.6,294.1 279.6,293.9 279.8,294.1 280.0,296.2 280.1,298.2 280.4,298.1 280.8,299.1 281.2,300.3 281.6,299.0 282.0,299.9 282.4,299.0 282.8,298.7 283.2,299.9 283.6,300.5 284.0,299.0 284.4,299.4 284.8,299.5 285.2,300.7 285.6,301.1 286.0,299.6 286.4,300.3 286.8,300.3 287.2,300.5 287.6,299.4 288.0,300.3 288.4,299.2 288.8,299.3 289.2,299.6 289.6,298.7 290.0,298.6 290.4,298.7 290.8,298.2 291.2,299.5 291.6,299.3 292.0,297.6 292.4,298.7 292.8,298.4 293.2,297.5 293.6,298.4 294.0,298.6 294.4,298.1 294.8,298.1 295.2,298.5 295.6,294.5 295.7,295.0 296.0,291.1 296.1,288.8 296.3,288.7 296.4,289.5 296.4,288.6 296.6,291.1 296.8,293.2 296.9,295.1 297.2,296.9 297.6,299.1 298.0,299.5 298.4,300.4 298.8,298.9 299.2,299.8 299.6,299.6 300.0,299.2 300.4,299.3 300.8,300.1 301.2,297.1 301.6,297.2 302.0,295.4 302.4,296.7 302.8,298.5 303.2,300.3 303.6,300.9 304.0,301.4 304.4,301.1 304.8,300.8 305.2,301.6 305.6,301.2 306.0,300.6 306.4,301.5 306.8,301.2 307.2,299.8 307.6,300.0 308.0,300.9 308.4,300.3 308.8,300.4 309.2,300.0 309.6,300.6 310.0,300.0 310.4,300.9 310.8,300.0 311.2,300.5 311.6,300.0 312.0,300.1 312.4,299.5 312.8,299.5 313.2,299.1 313.6,298.6 314.0,299.4 314.4,298.8 314.8,298.5 315.2,300.1 315.6,299.0 316.0,299.0 316.4,298.8 316.8,299.3 317.2,298.9 317.6,299.7 318.0,299.4 318.4,300.5 318.8,300.5 319.2,300.1 319.6,300.3 320.0,300.3 320.4,300.4 320.8,299.2 321.2,298.5 321.6,297.0 322.0,295.8 322.4,295.4 322.8,297.0 323.2,300.2 323.6,300.3 324.0,300.3 324.4,301.6 324.8,301.6 325.2,302.3 325.6,302.2 326.0,302.5 326.4,301.2 326.8,302.1 327.2,302.3 327.6,301.0 328.0,302.6 328.4,301.5 328.8,301.5 329.2,301.9 329.6,302.3 330.0,302.4 330.4,301.5 330.8,301.2" fill="none" stroke="#ffc000" stroke-width="2.1" stroke-linejoin="round" stroke-linecap="round"/></g><g clip-path="url(#cfa)"><line x1="431.0" y1="31.3" x2="431.0" y2="174.0" stroke="#333" stroke-width="1" stroke-dasharray="2.6,2.2"/><line x1="507.5" y1="31.3" x2="507.5" y2="174.0" stroke="#333" stroke-width="1" stroke-dasharray="2.6,2.2"/><polyline points="359.0,172.5 359.4,172.1 359.9,173.4 360.4,171.9 360.8,173.1 361.2,172.6 361.7,171.8 362.1,173.0 362.6,171.7 363.1,172.7 363.5,171.8 363.9,171.8 364.4,172.6 364.9,173.7 365.3,171.8 365.8,172.0 366.2,173.0 366.6,173.8 367.1,172.7 367.6,172.2 368.0,173.6 368.4,171.1 368.9,173.1 369.4,171.6 369.8,171.1 370.2,171.0 370.7,171.4 371.1,172.7 371.6,171.0 372.1,172.0 372.5,172.1 372.9,171.4 373.4,171.8 373.9,170.5 374.3,170.5 374.8,170.8 375.2,171.9 375.6,171.2 376.1,170.8 376.6,171.5 377.0,171.1 377.4,170.6 377.9,171.8 378.4,171.4 378.8,170.2 379.2,170.9 379.7,170.6 380.1,171.4 380.6,170.8 381.1,169.6 381.1,169.4 381.2,169.1 381.2,168.8 381.2,168.4 381.3,168.0 381.4,167.4 381.5,166.7 381.6,165.8 381.7,164.9 381.7,164.1 381.8,163.4 381.9,163.0 382.0,162.8 382.1,163.0 382.2,163.4 382.2,164.0 382.3,164.8 382.4,165.6 382.5,166.5 382.6,167.3 382.7,168.0 382.8,168.7 383.0,169.3 383.1,170.0 383.2,170.7 383.4,171.3 383.7,171.9 384.0,172.5 384.4,172.9 384.9,173.2 385.5,173.5 386.1,173.7 386.8,173.9 387.5,174.0 388.3,174.1 389.1,174.1 390.0,174.2 391.0,174.3 392.1,174.3 393.2,174.3 394.4,174.4 395.6,174.3 396.7,174.3 397.8,174.3 398.6,174.2 399.3,174.1 399.8,174.0 400.3,173.9 400.7,173.8 401.0,173.6 401.3,173.5 401.6,173.2 402.0,173.0 402.4,172.7 402.8,172.4 403.2,172.1 403.5,171.7 403.9,171.4 404.3,170.9 404.6,170.5 405.0,170.0 405.4,169.5 405.8,168.9 406.1,168.3 406.5,167.7 406.9,167.0 407.3,166.4 407.6,165.7 408.0,165.0 408.3,164.3 408.7,163.6 409.0,162.9 409.3,162.2 409.6,161.5 409.9,160.7 410.2,159.9 410.5,159.0 410.8,158.1 411.1,157.1 411.4,156.1 411.7,155.0 412.0,153.9 412.4,152.8 412.7,151.7 413.0,150.5 413.3,149.3 413.7,148.0 414.0,146.7 414.4,145.4 414.7,144.1 415.1,142.7 415.5,141.4 415.8,140.0 416.1,138.6 416.5,137.2 416.9,135.8 417.2,134.4 417.6,133.0 417.9,131.6 418.2,130.3 418.5,129.0 418.8,127.8 419.0,126.6 419.3,125.5 419.5,124.4 419.7,123.4 419.9,122.3 420.1,121.2 420.3,120.0 420.5,118.8 420.7,117.6 420.9,116.3 421.1,115.0 421.3,113.8 421.4,112.5 421.6,111.2 421.8,110.0 422.0,108.8 422.2,107.6 422.3,106.4 422.5,105.2 422.7,104.0 422.9,102.8 423.1,101.6 423.3,100.5 423.5,99.4 423.7,98.3 424.0,97.2 424.2,96.1 424.4,95.0 424.7,94.0 424.9,93.0 425.2,92.0 425.5,91.0 425.8,90.1 426.2,89.1 426.5,88.2 426.9,87.3 427.2,86.5 427.5,85.7 427.8,85.0 428.0,84.3 428.3,83.7 428.5,83.2 428.6,82.7 428.8,82.2 429.0,81.8 429.1,81.4 429.3,81.0 429.5,80.6 429.6,80.3 429.8,80.0 429.9,79.7 430.1,79.5 430.2,79.3 430.4,79.2 430.5,79.2 430.6,79.2 430.8,79.3 430.9,79.5 431.1,79.7 431.2,80.0 431.4,80.3 431.5,80.6 431.7,81.0 431.9,81.4 432.0,81.8 432.2,82.2 432.3,82.7 432.5,83.2 432.7,83.7 432.8,84.3 433.0,85.0 433.2,85.7 433.4,86.5 433.6,87.4 433.8,88.2 433.9,89.2 434.1,90.1 434.3,91.1 434.5,92.0 434.7,92.9 434.8,93.9 435.0,94.8 435.2,95.8 435.3,96.8 435.5,97.8 435.6,98.9 435.8,100.0 436.0,101.2 436.1,102.4 436.3,103.6 436.5,104.9 436.7,106.2 436.8,107.5 437.0,108.7 437.2,110.0 437.4,111.2 437.5,112.5 437.7,113.7 437.9,114.9 438.0,116.2 438.2,117.4 438.5,118.7 438.7,120.0 439.0,121.3 439.3,122.7 439.6,124.1 439.9,125.6 440.3,127.0 440.7,128.4 441.0,129.7 441.4,131.0 441.8,132.2 442.1,133.3 442.5,134.4 442.9,135.5 443.3,136.5 443.7,137.6 444.1,138.8 444.5,140.0 445.0,141.3 445.4,142.7 445.9,144.2 446.4,145.7 447.0,147.2 447.5,148.7 448.0,150.1 448.5,151.5 449.0,152.8 449.5,154.0 449.9,155.1 450.4,156.3 450.9,157.4 451.4,158.6 451.9,159.8 452.5,161.0 453.1,162.4 453.8,163.9 454.5,165.4 455.2,167.0 456.0,168.5 456.6,169.8 457.3,171.0 457.8,172.0 458.3,172.7 458.7,173.3 459.0,173.8 459.4,174.1 459.7,174.2 459.9,174.3 460.2,174.2 460.4,174.0 460.6,173.6 460.8,173.0 460.9,172.3 461.0,171.4 461.1,170.5 461.2,169.6 461.3,168.7 461.4,168.0 461.5,167.3 461.6,166.7 461.7,166.0 461.9,165.4 462.0,164.9 462.1,164.4 462.2,164.0 462.4,163.8 462.6,163.7 462.8,163.9 463.0,164.1 463.2,164.4 463.4,164.8 463.6,165.1 463.8,165.4 464.0,165.5 464.2,165.5 464.3,165.4 464.5,165.2 464.7,164.9 464.8,164.7 465.0,164.6 465.2,164.6 465.5,164.8 465.8,165.2 466.1,165.7 466.5,166.4 466.9,167.2 467.3,168.0 467.7,168.7 468.1,169.4 468.5,170.0 468.9,170.5 469.3,171.0 469.7,171.5 470.1,171.9 470.4,172.3 470.8,172.6 471.2,172.9 471.6,173.0 472.0,173.0 472.3,172.9 472.7,172.8 473.1,172.5 473.4,172.3 473.8,172.0 474.1,171.7 474.5,171.5 474.9,171.3 475.3,171.0 475.7,170.7 476.1,170.4 476.4,170.2 476.8,170.0 477.2,169.9 477.6,169.9 478.0,170.0 478.3,170.3 478.7,170.6 479.0,171.0 479.4,171.4 479.8,171.8 480.1,172.2 480.5,172.5 480.9,172.8 481.3,173.0 481.7,173.3 482.1,173.6 482.5,173.8 482.9,173.9 483.3,174.0 483.7,174.0 484.1,173.9 484.5,173.7 485.0,173.4 485.4,173.1 485.8,172.7 486.2,172.3 486.6,171.9 487.0,171.5 487.4,171.1 487.7,170.7 488.1,170.3 488.4,169.9 488.7,169.4 489.1,169.0 489.4,168.4 489.8,167.9 490.2,167.3 490.6,166.6 491.0,165.9 491.4,165.1 491.8,164.4 492.2,163.7 492.6,163.1 493.0,162.5 493.4,162.0 493.7,161.5 494.1,161.1 494.5,160.7 494.8,160.4 495.2,160.1 495.5,159.9 495.9,159.8 496.3,159.8 496.7,160.0 497.1,160.2 497.4,160.5 497.8,160.8 498.2,161.1 498.6,161.4 499.0,161.5 499.4,161.6 499.7,161.6 500.1,161.6 500.5,161.6 500.8,161.5 501.2,161.3 501.6,161.1 501.9,160.8 502.2,160.4 502.6,159.9 502.9,159.4 503.2,158.8 503.5,158.1 503.9,157.4 504.2,156.7 504.5,156.0 504.8,155.1 505.1,154.1 505.5,152.9 505.8,151.7 506.1,150.6 506.4,149.9 506.7,149.5 507.0,149.7 507.3,150.6 507.5,152.3 507.8,154.5 508.0,156.9 508.3,159.2 508.5,161.4 508.8,163.0 509.0,163.8 509.3,163.8 509.5,163.1 509.8,162.0 510.1,160.6 510.4,159.1 510.6,157.7 510.8,156.5 511.0,155.7" fill="none" stroke="#5b9bd5" stroke-width="1.5" stroke-linejoin="round" stroke-linecap="round"/><polyline points="359.2,151.7 359.7,152.0 360.5,152.3 361.3,152.8 362.3,153.2 363.2,153.7 364.0,154.0 364.7,154.3 365.4,154.6 366.0,154.8 366.7,155.0 367.4,155.1 368.2,155.1 369.1,154.9 370.1,154.5 371.2,154.0 372.3,153.5 373.3,153.0 374.3,152.7 375.2,152.5 376.0,152.4 376.8,152.3 377.6,152.3 378.3,152.2 379.0,152.0 379.6,151.7 380.2,151.2 380.7,150.7 381.2,150.2 381.6,149.8 382.0,149.7 382.3,149.8 382.6,150.1 382.8,150.5 383.0,151.0 383.2,151.5 383.5,152.0 383.8,152.5 384.0,153.1 384.3,153.7 384.6,154.3 384.9,154.8 385.4,155.1 386.0,155.2 386.7,155.2 387.5,155.1 388.4,154.9 389.2,154.7 390.0,154.5 390.8,154.3 391.5,154.0 392.3,153.7 393.0,153.3 393.8,153.0 394.5,152.7 395.2,152.4 395.9,152.2 396.6,151.9 397.2,151.6 397.9,151.3 398.5,151.0 399.1,150.6 399.7,150.3 400.2,149.9 400.7,149.5 401.2,149.0 401.7,148.5 402.1,147.9 402.5,147.3 402.8,146.6 403.1,145.9 403.5,145.2 403.8,144.5 404.1,143.8 404.5,143.1 404.8,142.3 405.2,141.6 405.5,140.8 405.8,140.0 406.1,139.2 406.4,138.4 406.7,137.5 406.9,136.7 407.2,135.8 407.5,135.0 407.8,134.2 408.1,133.4 408.4,132.5 408.7,131.7 408.9,130.9 409.2,130.0 409.4,129.1 409.7,128.2 409.9,127.3 410.1,126.4 410.3,125.4 410.5,124.5 410.7,123.6 410.9,122.8 411.1,122.0 411.3,121.1 411.5,120.1 411.7,119.0 411.9,117.7 412.2,116.1 412.5,114.5 412.8,112.9 413.0,111.4 413.3,110.0 413.5,108.8 413.8,107.8 414.0,106.8 414.2,105.9 414.4,105.0 414.6,104.0 414.8,103.0 415.0,102.1 415.2,101.2 415.4,100.2 415.6,99.2 415.8,98.0 416.1,96.7 416.3,95.2 416.6,93.7 416.9,92.1 417.2,90.6 417.5,89.0 417.8,87.4 418.1,85.9 418.4,84.3 418.6,82.7 418.9,81.1 419.2,79.5 419.5,77.9 419.7,76.2 420.0,74.6 420.3,72.9 420.5,71.4 420.8,70.0 421.1,68.7 421.3,67.5 421.6,66.3 421.8,65.3 422.0,64.3 422.2,63.5 422.3,62.8 422.3,62.2 422.3,61.6 422.3,61.2 422.4,60.8 422.5,60.5 422.7,60.2 423.0,60.0 423.4,59.9 423.7,59.8 424.1,59.8 424.5,59.8 424.9,59.9 425.3,60.1 425.8,60.4 426.2,60.7 426.6,60.9 427.0,61.0 427.3,61.0 427.6,60.9 427.8,60.7 428.0,60.5 428.2,60.5 428.5,60.5 428.8,60.6 429.1,60.7 429.4,60.8 429.8,61.1 430.2,61.7 430.6,62.5 431.1,63.7 431.6,65.2 432.2,66.9 432.8,68.8 433.4,70.8 434.0,72.9 434.6,75.0 435.2,77.2 435.8,79.6 436.4,82.0 437.0,84.5 437.6,87.1 438.2,89.9 438.8,92.8 439.4,95.8 440.0,98.8 440.6,101.8 441.2,104.5 441.8,107.1 442.4,109.6 443.0,112.0 443.6,114.3 444.2,116.4 444.8,118.5 445.4,120.4 446.0,122.1 446.6,123.7 447.2,125.2 447.7,126.8 448.3,128.5 448.8,130.3 449.3,132.2 449.8,134.1 450.3,136.0 450.8,137.8 451.3,139.5 451.9,141.1 452.5,142.6 453.1,144.0 453.8,145.4 454.4,146.7 455.0,148.0 455.6,149.4 456.2,150.8 456.8,152.2 457.4,153.4 457.9,154.3 458.4,154.7 458.8,154.6 459.2,154.0 459.5,153.2 459.9,152.1 460.1,150.9 460.4,149.7 460.6,148.5 460.8,147.0 461.0,145.5 461.2,143.9 461.3,142.4 461.5,141.0 461.7,139.6 461.8,138.0 462.0,136.6 462.1,135.2 462.2,134.2 462.4,133.5 462.6,133.4 462.7,133.8 462.9,134.4 463.1,135.2 463.2,135.8 463.4,136.0 463.6,135.8 463.7,135.4 463.9,134.8 464.1,134.1 464.2,133.7 464.4,133.5 464.6,133.5 464.7,133.5 464.8,133.7 465.0,134.2 465.2,134.9 465.5,136.0 465.9,137.7 466.3,140.1 466.9,142.8 467.4,145.5 467.9,147.9 468.5,149.7 469.1,150.9 469.6,151.8 470.2,152.4 470.8,152.8 471.4,153.1 472.0,153.5 472.6,153.9 473.3,154.3 473.9,154.7 474.5,154.9 475.1,154.9 475.6,154.7 476.0,154.1 476.3,153.2 476.5,152.0 476.8,150.9 477.0,150.1 477.2,149.7 477.4,149.9 477.7,150.4 477.9,151.2 478.1,152.1 478.3,152.9 478.5,153.5 478.7,153.9 478.7,154.2 478.8,154.4 478.9,154.6 479.2,154.7 479.7,154.7 480.4,154.7 481.4,154.6 482.5,154.4 483.7,154.2 484.8,154.0 485.7,153.7 486.5,153.4 487.1,153.1 487.8,152.7 488.4,152.3 488.9,151.9 489.5,151.5 490.1,151.0 490.7,150.4 491.2,149.7 491.8,149.2 492.3,148.8 492.8,148.6 493.3,148.8 493.8,149.2 494.2,149.7 494.6,150.4 495.1,151.0 495.5,151.5 495.9,151.9 496.3,152.4 496.6,152.8 497.0,153.2 497.4,153.5 497.9,153.7 498.4,153.8 499.0,153.8 499.6,153.8 500.3,153.7 500.9,153.6 501.5,153.5 502.1,153.5 502.7,153.5 503.4,153.6 503.9,153.5 504.5,153.3 505.0,152.7 505.4,151.6 505.8,150.1 506.1,148.3 506.4,146.6 506.7,145.3 507.0,144.6 507.3,144.7 507.7,145.3 508.0,146.2 508.3,147.3 508.7,148.3 509.0,149.0 509.4,149.3 509.7,149.5 510.1,149.6 510.5,149.7 510.8,149.7 511.0,149.7" fill="none" stroke="#ed7d31" stroke-width="1.5" stroke-linejoin="round" stroke-linecap="round"/><polyline points="359.2,134.5 359.7,134.6 360.5,134.7 361.3,134.9 362.3,135.0 363.2,135.2 364.0,135.3 364.7,135.4 365.4,135.5 366.0,135.6 366.7,135.6 367.4,135.6 368.2,135.5 369.1,135.3 370.1,135.1 371.2,134.7 372.3,134.4 373.3,134.1 374.3,133.9 375.2,133.8 376.0,133.7 376.8,133.7 377.6,133.7 378.3,133.7 379.0,133.6 379.6,133.4 380.2,133.2 380.7,132.9 381.1,132.6 381.6,132.4 382.0,132.4 382.4,132.5 382.7,132.8 383.0,133.2 383.3,133.6 383.7,134.0 384.0,134.3 384.3,134.6 384.6,134.8 384.9,135.1 385.3,135.3 385.8,135.4 386.4,135.5 387.2,135.5 388.2,135.5 389.2,135.4 390.3,135.2 391.4,134.9 392.5,134.5 393.6,133.9 394.6,133.1 395.7,132.2 396.8,131.2 397.8,130.3 398.6,129.4 399.3,128.6 399.8,127.9 400.3,127.3 400.8,126.6 401.2,125.8 401.7,125.0 402.2,124.1 402.8,123.2 403.3,122.3 403.9,121.3 404.4,120.2 405.0,119.0 405.6,117.7 406.1,116.3 406.7,114.8 407.3,113.2 407.8,111.6 408.3,110.0 408.8,108.4 409.2,106.7 409.7,105.1 410.1,103.4 410.5,101.7 410.8,100.0 411.1,98.3 411.4,96.7 411.6,95.0 411.8,93.3 412.0,91.6 412.2,90.0 412.4,88.4 412.6,86.8 412.8,85.2 413.0,83.6 413.2,82.0 413.5,80.4 413.8,78.7 414.1,77.0 414.4,75.3 414.8,73.5 415.1,71.7 415.5,70.0 415.9,68.3 416.3,66.5 416.8,64.8 417.3,63.1 417.7,61.3 418.2,59.5 418.7,57.6 419.1,55.6 419.6,53.6 420.0,51.6 420.5,49.7 421.0,48.0 421.5,46.4 422.0,44.9 422.6,43.5 423.1,42.3 423.6,41.3 424.0,40.7 424.4,40.5 424.7,40.6 425.1,41.0 425.4,41.6 425.7,42.3 426.0,43.0 426.3,43.7 426.6,44.5 426.9,45.4 427.3,46.4 427.7,47.6 428.1,49.0 428.6,50.6 429.2,52.4 429.8,54.3 430.5,56.4 431.1,58.7 431.7,61.0 432.3,63.5 432.9,66.1 433.4,68.9 434.0,71.7 434.6,74.6 435.2,77.6 435.8,80.7 436.4,84.0 437.1,87.3 437.7,90.6 438.3,93.8 438.8,96.7 439.3,99.3 439.7,101.8 440.1,104.1 440.5,106.3 440.9,108.5 441.4,110.5 441.9,112.5 442.5,114.4 443.2,116.2 443.8,118.0 444.4,119.5 445.0,121.0 445.5,122.3 446.1,123.4 446.6,124.4 447.1,125.3 447.5,126.2 448.0,127.0 448.4,127.8 448.9,128.5 449.3,129.2 449.7,129.8 450.1,130.4 450.6,131.0 451.1,131.6 451.7,132.1 452.3,132.6 452.9,133.0 453.5,133.4 454.0,133.8 454.5,134.1 454.9,134.4 455.3,134.6 455.7,134.8 456.1,134.9 456.5,135.0 456.9,135.1 457.3,135.3 457.7,135.4 458.1,135.3 458.4,135.1 458.8,134.5 459.2,133.5 459.5,132.2 459.8,130.7 460.2,129.0 460.5,127.4 460.8,126.0 461.1,124.6 461.4,123.2 461.6,121.8 461.9,120.5 462.1,119.5 462.4,118.9 462.7,118.8 462.9,119.2 463.2,119.8 463.5,120.6 463.7,121.2 464.0,121.5 464.2,121.4 464.5,121.0 464.7,120.4 465.0,120.0 465.2,119.9 465.5,120.3 465.8,121.4 466.1,123.1 466.4,125.1 466.8,127.2 467.1,129.0 467.5,130.4 467.9,131.3 468.3,131.9 468.7,132.3 469.1,132.6 469.5,132.8 470.0,133.0 470.6,133.2 471.2,133.3 471.8,133.4 472.5,133.4 473.1,133.5 473.6,133.5 474.0,133.6 474.4,133.7 474.6,133.8 474.9,133.8 475.2,133.9 475.5,133.8 475.8,133.6 476.2,133.3 476.6,132.9 476.9,132.5 477.3,132.3 477.6,132.2 477.9,132.4 478.1,132.7 478.3,133.2 478.5,133.7 478.7,134.1 479.0,134.5 479.4,134.8 479.8,135.0 480.2,135.2 480.7,135.4 481.2,135.5 481.7,135.5 482.2,135.5 482.8,135.4 483.3,135.2 483.9,135.0 484.5,134.8 485.0,134.5 485.5,134.2 486.0,134.0 486.4,133.7 486.9,133.3 487.3,132.9 487.8,132.4 488.3,131.8 488.7,131.0 489.2,130.2 489.6,129.4 490.1,128.7 490.5,128.0 490.9,127.4 491.3,126.8 491.7,126.2 492.1,125.8 492.4,125.5 492.8,125.4 493.1,125.6 493.5,126.0 493.8,126.5 494.1,127.2 494.5,127.9 494.8,128.5 495.1,129.1 495.4,129.8 495.7,130.5 496.0,131.2 496.4,131.8 496.9,132.4 497.6,132.9 498.4,133.4 499.4,133.9 500.3,134.3 501.2,134.5 501.9,134.5 502.5,134.2 503.0,133.8 503.4,133.1 503.8,132.4 504.2,131.7 504.5,131.0 504.8,130.4 505.1,129.8 505.3,129.2 505.5,128.6 505.8,128.0 506.0,127.4 506.3,126.7 506.5,125.8 506.8,125.0 507.1,124.2 507.3,123.6 507.6,123.3 507.8,123.3 508.1,123.6 508.3,124.1 508.5,124.7 508.7,125.4 509.0,126.0 509.3,126.7 509.7,127.5 510.1,128.4 510.5,129.2 510.8,129.9 511.0,130.4" fill="none" stroke="#a5a5a5" stroke-width="1.5" stroke-linejoin="round" stroke-linecap="round"/></g><g clip-path="url(#cfb)"><line x1="415.5" y1="234.9" x2="415.5" y2="379.0" stroke="#333" stroke-width="1" stroke-dasharray="2.6,2.2"/><line x1="420.6" y1="234.9" x2="420.6" y2="379.0" stroke="#333" stroke-width="1" stroke-dasharray="2.6,2.2"/><line x1="508.0" y1="234.9" x2="508.0" y2="379.0" stroke="#333" stroke-width="1" stroke-dasharray="2.6,2.2"/><polyline points="359.3,307.9 359.7,308.1 360.3,308.2 361.0,308.4 361.7,308.7 362.3,309.2 362.9,310.0 363.3,311.0 363.7,312.3 364.0,313.8 364.4,315.3 364.7,317.0 365.0,318.6 365.3,320.3 365.6,322.1 365.9,324.0 366.2,325.8 366.6,327.6 367.1,329.3 367.7,330.9 368.3,332.5 369.1,334.0 369.8,335.3 370.6,336.6 371.4,337.6 372.2,338.4 373.0,339.0 373.8,339.5 374.7,339.8 375.6,340.1 376.4,340.3 377.3,340.4 378.1,340.5 379.0,340.4 379.8,340.3 380.7,340.1 381.5,339.8 382.3,339.4 383.1,338.9 383.8,338.3 384.6,337.6 385.3,336.9 386.0,336.2 386.7,335.5 387.4,334.7 388.0,333.9 388.6,333.0 389.2,332.1 389.7,331.2 390.1,330.2 390.5,329.1 390.8,328.0 391.2,326.9 391.5,325.7 391.8,324.5 392.2,323.2 392.5,321.9 392.9,320.5 393.3,319.1 393.6,317.8 394.0,316.5 394.4,315.3 394.7,314.2 395.0,313.1 395.4,312.0 395.7,310.8 396.1,309.5 396.5,308.0 396.9,306.5 397.3,304.8 397.7,303.1 398.1,301.5 398.5,300.0 398.9,298.6 399.3,297.2 399.8,295.9 400.2,294.6 400.7,293.4 401.2,292.1 401.7,290.9 402.3,289.9 402.9,288.8 403.6,287.7 404.2,286.5 404.8,285.0 405.4,283.3 406.0,281.5 406.6,279.5 407.1,277.4 407.7,275.3 408.3,273.1 408.9,270.9 409.5,268.5 410.1,266.1 410.7,263.7 411.3,261.2 411.9,258.8 412.4,256.1 413.0,253.1 413.5,250.0 414.0,247.3 414.5,245.2 415.0,244.0 415.5,243.9 416.0,244.7 416.4,246.0 416.9,247.8 417.4,249.8 417.9,251.7 418.4,253.7 419.0,255.9 419.6,258.3 420.2,260.8 420.8,263.4 421.4,266.0 422.0,268.7 422.6,271.4 423.2,274.3 423.8,277.2 424.4,279.9 425.0,282.6 425.6,285.1 426.2,287.6 426.8,290.0 427.4,292.3 428.0,294.6 428.6,296.9 429.2,299.1 429.8,301.3 430.4,303.5 430.9,305.6 431.5,307.6 432.1,309.5 432.7,311.3 433.2,312.9 433.8,314.4 434.4,315.9 435.0,317.5 435.7,319.0 436.4,320.6 437.2,322.2 438.1,323.9 438.9,325.5 439.7,327.0 440.5,328.5 441.2,330.0 441.9,331.6 442.6,333.1 443.3,334.4 443.8,335.5 444.3,336.1 444.6,336.2 444.9,335.9 445.0,335.4 445.1,334.6 445.3,333.8 445.4,333.0 445.6,332.1 445.7,330.9 445.9,329.6 446.1,328.5 446.2,327.7 446.4,327.5 446.6,328.0 446.7,329.1 446.8,330.6 447.0,332.2 447.2,333.8 447.5,335.0 447.9,336.0 448.4,337.0 448.9,338.0 449.5,338.8 450.1,339.4 450.7,339.7 451.4,339.8 452.1,339.6 452.9,339.3 453.7,338.7 454.4,338.0 455.0,337.1 455.4,335.9 455.8,334.5 456.1,332.8 456.3,331.1 456.6,329.5 456.8,328.0 457.0,326.6 457.3,325.2 457.5,323.9 457.7,322.7 457.9,321.8 458.2,321.1 458.5,320.7 458.8,320.6 459.2,320.7 459.6,321.0 460.0,321.5 460.4,322.1 460.9,323.0 461.4,324.2 461.9,325.6 462.4,327.1 463.0,328.5 463.6,329.6 464.3,330.6 465.0,331.4 465.7,332.2 466.5,332.9 467.2,333.5 467.9,333.9 468.6,334.1 469.2,334.2 469.8,334.1 470.4,333.9 471.0,333.7 471.5,333.5 472.0,333.3 472.4,332.9 472.7,332.5 473.1,332.2 473.4,331.9 473.8,331.9 474.2,332.1 474.5,332.5 474.9,333.0 475.2,333.5 475.6,334.1 476.0,334.5 476.4,334.9 476.8,335.2 477.3,335.5 477.7,335.8 478.2,336.1 478.8,336.4 479.4,336.7 480.1,337.0 480.8,337.3 481.5,337.6 482.2,337.8 483.0,338.0 483.8,338.2 484.5,338.3 485.3,338.5 486.1,338.6 487.0,338.6 487.9,338.6 488.9,338.5 490.1,338.4 491.3,338.2 492.5,337.9 493.6,337.7 494.7,337.5 495.7,337.4 496.7,337.3 497.6,337.2 498.6,337.1 499.4,336.8 500.3,336.4 501.1,335.7 502.0,334.8 502.8,333.8 503.5,332.8 504.2,331.7 504.8,330.7 505.2,329.7 505.6,328.7 505.9,327.7 506.1,326.7 506.3,325.8 506.5,325.0 506.7,324.2 507.0,323.4 507.2,322.7 507.4,322.1 507.6,321.8 507.8,321.7 508.0,321.9 508.2,322.4 508.4,323.1 508.5,323.9 508.8,324.9 509.0,326.0 509.3,327.4 509.7,329.0 510.1,330.9 510.5,332.6 510.8,334.1 511.0,335.2" fill="none" stroke="#ffc000" stroke-width="1.6" stroke-linejoin="round" stroke-linecap="round"/><polyline points="359.3,358.5 359.9,358.6 360.8,358.9 361.8,359.1 362.9,359.4 363.9,359.6 364.9,359.7 365.8,359.8 366.6,359.8 367.4,359.8 368.2,359.7 369.0,359.6 369.9,359.5 370.9,359.3 371.8,359.1 372.9,358.9 373.9,358.6 375.0,358.3 376.0,357.8 377.0,357.3 378.1,356.6 379.2,355.9 380.2,355.2 381.2,354.4 382.2,353.5 383.1,352.6 384.0,351.6 384.9,350.6 385.7,349.5 386.5,348.4 387.2,347.3 387.9,346.2 388.6,345.0 389.2,343.8 389.8,342.5 390.3,341.2 390.9,339.9 391.5,338.5 392.0,337.0 392.5,335.4 393.0,333.9 393.5,332.4 393.9,331.0 394.3,329.7 394.7,328.5 395.0,327.4 395.3,326.3 395.7,325.2 396.0,324.0 396.4,322.7 396.7,321.4 397.1,320.1 397.5,318.8 397.9,317.5 398.2,316.4 398.5,315.4 398.8,314.5 399.1,313.7 399.4,313.0 399.7,312.1 400.0,311.2 400.4,310.1 400.8,308.9 401.2,307.7 401.6,306.5 402.0,305.4 402.4,304.5 402.8,303.8 403.1,303.2 403.5,302.8 403.8,302.4 404.2,302.0 404.5,301.5 404.8,301.1 405.0,301.0 405.2,300.8 405.5,300.5 405.7,299.7 406.1,298.5 406.6,296.6 407.1,294.0 407.8,291.1 408.4,288.1 409.0,285.2 409.5,282.6 409.9,280.3 410.3,278.2 410.7,276.1 411.1,274.2 411.5,272.4 411.9,270.7 412.4,269.0 412.9,267.4 413.4,265.8 413.9,264.6 414.4,263.8 415.0,263.6 415.6,264.2 416.2,265.5 416.8,267.3 417.4,269.2 418.0,271.2 418.6,273.0 419.1,274.6 419.6,276.1 420.0,277.6 420.4,279.1 420.9,280.8 421.4,282.6 422.0,284.5 422.5,286.6 423.1,288.8 423.8,291.0 424.4,293.2 425.0,295.5 425.6,297.8 426.2,300.3 426.8,302.7 427.4,305.1 428.0,307.4 428.6,309.5 429.2,311.4 429.8,313.1 430.4,314.7 431.0,316.2 431.6,317.6 432.1,319.0 432.6,320.3 432.9,321.4 433.3,322.4 433.7,323.5 434.0,324.7 434.5,326.0 435.0,327.5 435.5,329.2 436.1,331.0 436.7,332.8 437.3,334.7 438.0,336.5 438.7,338.4 439.5,340.4 440.2,342.3 441.0,344.3 441.8,346.1 442.6,347.8 443.3,349.3 444.1,350.7 444.8,352.0 445.5,353.1 446.2,354.2 446.9,355.2 447.6,356.1 448.2,357.0 448.8,357.7 449.4,358.3 450.0,358.8 450.7,359.2 451.4,359.5 452.2,359.8 453.0,360.0 453.7,359.9 454.4,359.5 455.0,358.6 455.5,357.1 455.9,355.0 456.2,352.6 456.5,350.1 456.8,347.7 457.1,345.7 457.4,344.0 457.6,342.4 457.9,340.9 458.1,339.6 458.3,338.7 458.6,338.2 458.9,338.1 459.1,338.5 459.4,339.1 459.7,340.1 460.0,341.2 460.4,342.5 460.8,344.1 461.3,346.1 461.8,348.4 462.4,350.6 463.0,352.6 463.6,354.3 464.3,355.6 465.0,356.7 465.7,357.6 466.5,358.4 467.2,359.0 467.9,359.4 468.6,359.6 469.2,359.7 469.8,359.6 470.4,359.3 471.0,359.0 471.5,358.5 472.0,357.8 472.4,356.8 472.7,355.6 473.1,354.6 473.4,353.7 473.8,353.3 474.2,353.4 474.5,353.9 474.9,354.6 475.2,355.4 475.6,356.1 476.0,356.5 476.4,356.6 476.7,356.4 477.1,356.1 477.5,355.8 478.1,355.6 478.8,355.6 479.7,355.8 480.9,356.3 482.2,356.8 483.4,357.3 484.6,357.7 485.6,357.9 486.4,357.9 487.0,357.7 487.5,357.5 488.0,357.1 488.5,356.8 489.0,356.5 489.6,356.2 490.2,355.7 490.7,355.3 491.3,354.9 491.9,354.6 492.4,354.5 492.9,354.6 493.3,354.8 493.7,355.2 494.1,355.5 494.6,355.8 495.0,356.0 495.4,356.1 495.9,356.2 496.3,356.2 496.8,356.1 497.3,355.9 498.0,355.6 498.8,355.1 499.8,354.5 500.9,353.7 501.9,352.9 502.9,352.0 503.7,351.1 504.3,350.2 504.9,349.1 505.4,348.0 505.8,346.9 506.1,345.9 506.5,345.0 506.9,344.1 507.2,343.2 507.4,342.4 507.7,341.7 508.0,341.1 508.2,340.9 508.4,341.0 508.7,341.3 508.9,341.9 509.1,342.6 509.3,343.3 509.5,344.0 509.8,344.8 510.0,345.7 510.3,346.6 510.6,347.5 510.8,348.3 511.0,348.8" fill="none" stroke="#636363" stroke-width="1.5" stroke-linejoin="round" stroke-linecap="round"/><polyline points="359.0,356.1 359.4,359.6 359.7,353.3 360.1,354.9 360.4,351.5 360.8,353.3 361.1,358.3 361.4,355.0 361.8,357.8 362.1,357.5 362.5,358.3 362.9,359.4 363.2,358.9 363.6,363.4 363.9,360.8 364.2,362.8 364.6,363.0 364.9,365.6 365.3,367.4 365.7,368.9 365.8,369.1 366.2,369.1 366.5,368.7 366.9,371.5 367.2,368.9 367.6,371.0 367.9,372.7 368.2,370.3 368.6,372.3 368.9,372.9 369.3,371.2 369.7,372.7 370.0,374.1 370.4,373.5 370.7,374.7 371.1,373.0 371.4,373.5 371.8,373.3 372.1,374.9 372.4,376.5 372.8,375.6 373.2,376.5 373.5,375.3 373.9,376.8 374.2,374.8 374.6,375.7 374.9,377.2 375.2,377.6 375.6,376.7 375.9,375.8 376.3,376.6 376.7,376.5 377.0,376.8 377.4,378.7 377.7,376.6 378.1,378.9 378.4,378.8 378.8,376.0 379.1,377.0 379.4,377.2 379.8,375.5 380.2,376.6 380.5,378.1 380.9,375.2 381.2,376.6 381.6,374.7 381.9,376.3 382.1,375.6 382.7,375.2 383.4,374.6 384.0,374.1 384.6,373.5 385.3,372.8 385.9,372.1 386.5,371.3 387.1,370.6 387.8,369.7 388.4,368.8 389.0,367.9 389.7,366.9 390.3,365.8 390.9,364.7 391.5,363.5 392.2,362.2 392.8,360.8 393.4,359.3 394.0,357.9 394.7,356.4 395.2,354.9 395.8,353.5 396.3,352.1 396.8,350.7 397.3,349.3 397.8,347.9 398.3,346.5 398.7,345.1 399.2,343.7 399.6,342.4 400.0,341.2 400.4,340.1 400.7,339.0 401.1,338.0 401.4,336.9 401.8,335.6 402.2,334.2 402.6,332.5 403.1,330.5 403.6,328.1 404.2,325.5 404.8,322.8 405.4,320.1 406.0,317.5 406.6,315.1 407.1,313.0 407.6,311.2 408.1,309.6 408.6,308.2 409.0,306.9 409.4,305.7 409.9,304.5 410.3,303.3 410.7,302.0 411.1,300.6 411.4,299.3 411.8,297.9 412.1,296.5 412.5,295.2 412.8,293.9 413.1,292.7 413.5,291.5 413.9,290.4 414.3,289.3 414.7,288.2 415.1,287.2 415.5,286.3 416.0,285.5 416.3,284.8 416.7,284.2 417.0,283.8 417.3,283.5 417.6,283.4 417.9,283.3 418.2,283.3 418.4,283.3 418.7,283.4 419.0,283.4 419.3,283.4 419.6,283.4 419.9,283.4 420.2,283.4 420.5,283.4 420.8,283.5 421.1,283.7 421.4,284.0 421.7,284.4 421.9,284.8 422.2,285.3 422.4,285.8 422.7,286.4 423.0,287.1 423.2,287.8 423.5,288.5 423.8,289.3 424.1,290.2 424.4,291.1 424.7,292.1 425.0,293.1 425.4,294.1 425.7,295.1 426.0,296.0 426.3,296.9 426.6,297.8 426.9,298.7 427.2,299.5 427.6,300.4 427.9,301.3 428.2,302.1 428.5,303.0 428.8,303.9 429.1,304.8 429.4,305.7 429.8,306.6 430.1,307.5 430.4,308.4 430.7,309.2 431.0,310.0 431.3,310.8 431.6,311.5 431.9,312.2 432.2,312.8 432.5,313.5 432.8,314.1 433.2,314.8 433.5,315.5 433.9,316.2 434.2,317.0 434.6,317.7 435.0,318.4 435.4,319.2 435.8,320.0 436.1,320.7 436.5,321.5 436.8,322.3 437.2,323.1 437.5,323.9 437.8,324.7 438.1,325.5 438.4,326.4 438.7,327.2 439.0,328.0 439.3,328.8 439.5,329.7 439.8,330.5 440.0,331.3 440.3,332.2 440.5,333.0 440.8,333.8 441.0,334.5 441.3,335.2 441.5,335.9 441.8,336.5 442.0,337.1 442.3,337.7 442.5,338.3 442.8,338.9 443.0,339.5 443.2,340.1 443.4,340.6 443.7,341.1 443.9,341.6 444.1,342.2 444.3,342.7 444.5,343.3 444.7,344.0 444.9,344.8 445.1,345.6 445.4,346.4 445.6,347.3 445.8,348.3 446.0,349.2 446.3,350.1 446.5,351.0 446.7,351.8 446.9,352.7 447.1,353.5 447.3,354.3 447.6,355.1 447.8,356.0 448.0,356.9 448.3,357.9 448.6,359.0 448.9,360.2 449.3,361.5 449.6,362.8 450.0,364.2 450.3,365.5 450.7,366.8 451.0,368.0 451.3,369.2 451.7,370.5 452.1,371.8 452.4,373.1 452.8,374.3 453.1,375.4 453.4,376.3 453.6,377.0 453.8,377.6 453.9,378.1 454.0,378.6 454.1,378.9 454.1,379.0 454.2,378.9 454.3,378.5 454.5,377.8 454.7,376.6 455.0,374.9 455.3,372.9 455.7,370.7 456.0,368.4 456.4,366.2 456.7,364.4 457.1,362.9 457.5,361.8 457.9,360.9 458.3,360.2 458.8,359.7 459.2,359.3 459.6,359.0 460.0,358.8 460.4,358.6 460.7,358.5 461.0,358.6 461.2,358.9 461.5,359.2 461.7,359.6 461.9,359.9 462.2,360.3 462.5,360.7 462.8,361.1 463.2,361.4 463.6,361.9 464.0,362.3 464.4,362.7 464.8,363.1 465.2,363.5 465.7,363.9 466.2,364.2 466.7,364.5 467.3,364.8 467.9,365.1 468.4,365.3 469.0,365.6 469.5,365.8 470.0,366.1 470.4,366.3 470.9,366.6 471.3,366.8 471.6,367.0 472.0,367.2 472.4,367.5 472.8,367.8 473.2,368.2 473.7,368.7 474.1,369.2 474.6,369.8 475.1,370.5 475.6,371.1 476.1,371.8 476.6,372.4 477.0,373.0 477.4,373.6 477.8,374.3 478.2,374.9 478.6,375.6 478.9,376.2 479.3,376.6 479.6,377.0 480.0,377.1 480.4,377.0 480.8,376.7 481.1,376.2 481.5,375.7 481.9,375.1 482.3,374.5 482.6,373.9 483.0,373.5 483.3,373.1 483.7,372.7 484.0,372.4 484.3,372.0 484.6,371.7 484.9,371.5 485.2,371.4 485.6,371.4 486.0,371.6 486.4,371.9 486.8,372.3 487.2,372.8 487.7,373.3 488.1,373.8 488.6,374.2 489.0,374.5 489.4,374.7 489.8,374.8 490.3,374.9 490.7,375.0 491.1,375.0 491.5,374.9 492.0,374.9 492.4,374.8 492.8,374.7 493.3,374.4 493.8,374.2 494.2,373.9 494.7,373.6 495.1,373.3 495.6,373.1 496.0,373.0 496.4,373.0 496.8,373.1 497.2,373.3 497.6,373.4 498.0,373.6 498.4,373.7 498.8,373.8 499.2,373.7 499.7,373.5 500.1,373.2 500.6,372.8 501.1,372.4 501.6,371.9 502.1,371.4 502.6,370.9 503.0,370.5 503.4,370.1 503.8,369.6 504.2,369.1 504.6,368.6 505.0,368.2 505.4,367.7 505.7,367.3 506.0,366.9 506.3,366.5 506.5,366.1 506.8,365.7 507.0,365.3 507.2,365.0 507.4,364.8 507.6,364.7 507.8,364.7 508.0,364.9 508.1,365.3 508.3,365.8 508.4,366.4 508.5,367.1 508.7,367.7 508.8,368.4 509.0,369.0 509.2,369.6 509.5,370.3 509.8,370.9 510.1,371.6 510.4,372.3 510.6,372.8 510.8,373.3 511.0,373.7" fill="none" stroke="#7f6000" stroke-width="1.6" stroke-linejoin="round" stroke-linecap="round"/></g><rect x="22.8" y="32.9" width="308.2" height="141.3" fill="none" stroke="#111111" stroke-width="1.5"/><rect x="359.0" y="31.3" width="152.0" height="143.6" fill="none" stroke="#111111" stroke-width="1.5"/><rect x="22.0" y="234.8" width="309.0" height="144.4" fill="none" stroke="#111111" stroke-width="1.5"/><rect x="359.0" y="234.9" width="152.0" height="144.4" fill="none" stroke="#111111" stroke-width="1.5"/><line x1="100.0" y1="174.2" x2="100.0" y2="171.2" stroke="#111111" stroke-width="1.1"/><line x1="177.3" y1="174.2" x2="177.3" y2="171.2" stroke="#111111" stroke-width="1.1"/><line x1="254.6" y1="174.2" x2="254.6" y2="171.2" stroke="#111111" stroke-width="1.1"/><line x1="99.5" y1="379.2" x2="99.5" y2="376.2" stroke="#111111" stroke-width="1.1"/><line x1="176.8" y1="379.2" x2="176.8" y2="376.2" stroke="#111111" stroke-width="1.1"/><line x1="253.6" y1="379.2" x2="253.6" y2="376.2" stroke="#111111" stroke-width="1.1"/><line x1="386.8" y1="174.9" x2="386.8" y2="171.9" stroke="#111111" stroke-width="1.1"/><line x1="428.4" y1="174.9" x2="428.4" y2="171.9" stroke="#111111" stroke-width="1.1"/><line x1="469.6" y1="174.9" x2="469.6" y2="171.9" stroke="#111111" stroke-width="1.1"/><line x1="374.4" y1="379.3" x2="374.4" y2="376.3" stroke="#111111" stroke-width="1.1"/><line x1="419.8" y1="379.3" x2="419.8" y2="376.3" stroke="#111111" stroke-width="1.1"/><line x1="465.3" y1="379.3" x2="465.3" y2="376.3" stroke="#111111" stroke-width="1.1"/><text x="170.3" y="10.8" font-size="11" text-anchor="middle" font-weight="bold" fill="#1a1a1a" textLength="20.4" lengthAdjust="spacingAndGlyphs" stroke="#1a1a1a" stroke-width="0.2">XRD</text><text x="438.5" y="10.4" font-size="11" text-anchor="middle" font-weight="bold" fill="#1a1a1a" textLength="103.8" lengthAdjust="spacingAndGlyphs" stroke="#1a1a1a" stroke-width="0.2">FT-IR (transmittance)</text><text x="22.4" y="193.8" font-size="10" text-anchor="middle" font-weight="normal" fill="#1a1a1a" stroke="#1a1a1a" stroke-width="0.25">7</text><text x="99.7" y="193.8" font-size="10" text-anchor="middle" font-weight="normal" fill="#1a1a1a" stroke="#1a1a1a" stroke-width="0.25">17</text><text x="176.8" y="193.8" font-size="10" text-anchor="middle" font-weight="normal" fill="#1a1a1a" stroke="#1a1a1a" stroke-width="0.25">27</text><text x="253.5" y="193.8" font-size="10" text-anchor="middle" font-weight="normal" fill="#1a1a1a" stroke="#1a1a1a" stroke-width="0.25">37</text><text x="330.8" y="193.8" font-size="10" text-anchor="middle" font-weight="normal" fill="#1a1a1a" stroke="#1a1a1a" stroke-width="0.25">47</text><text x="22.0" y="398.3" font-size="10" text-anchor="middle" font-weight="normal" fill="#1a1a1a" stroke="#1a1a1a" stroke-width="0.25">7</text><text x="99.5" y="398.3" font-size="10" text-anchor="middle" font-weight="normal" fill="#1a1a1a" stroke="#1a1a1a" stroke-width="0.25">17</text><text x="176.8" y="398.3" font-size="10" text-anchor="middle" font-weight="normal" fill="#1a1a1a" stroke="#1a1a1a" stroke-width="0.25">27</text><text x="253.9" y="398.3" font-size="10" text-anchor="middle" font-weight="normal" fill="#1a1a1a" stroke="#1a1a1a" stroke-width="0.25">37</text><text x="330.6" y="398.3" font-size="10" text-anchor="middle" font-weight="normal" fill="#1a1a1a" stroke="#1a1a1a" stroke-width="0.25">47</text><text x="387.6" y="194.0" font-size="10" text-anchor="middle" font-weight="normal" fill="#1a1a1a" stroke="#1a1a1a" stroke-width="0.25">1350</text><text x="428.5" y="194.0" font-size="10" text-anchor="middle" font-weight="normal" fill="#1a1a1a" stroke="#1a1a1a" stroke-width="0.25">1050</text><text x="469.9" y="194.0" font-size="10" text-anchor="middle" font-weight="normal" fill="#1a1a1a" stroke="#1a1a1a" stroke-width="0.25">750</text><text x="511.0" y="194.0" font-size="10" text-anchor="middle" font-weight="normal" fill="#1a1a1a" stroke="#1a1a1a" stroke-width="0.25">450</text><text x="375.0" y="399.5" font-size="10" text-anchor="middle" font-weight="normal" fill="#1a1a1a" stroke="#1a1a1a" stroke-width="0.25">1350</text><text x="419.8" y="399.5" font-size="10" text-anchor="middle" font-weight="normal" fill="#1a1a1a" stroke="#1a1a1a" stroke-width="0.25">1050</text><text x="465.6" y="399.5" font-size="10" text-anchor="middle" font-weight="normal" fill="#1a1a1a" stroke="#1a1a1a" stroke-width="0.25">750</text><text x="510.9" y="399.5" font-size="10" text-anchor="middle" font-weight="normal" fill="#1a1a1a" stroke="#1a1a1a" stroke-width="0.25">450</text><text x="149.2" y="212.9" font-size="10" text-anchor="start" font-weight="bold" fill="#1a1a1a" textLength="55.5" lengthAdjust="spacingAndGlyphs" stroke="#1a1a1a" stroke-width="0.2">° 2θ (CuKα)</text><text x="148.5" y="417.0" font-size="10" text-anchor="start" font-weight="bold" fill="#1a1a1a" textLength="55.7" lengthAdjust="spacingAndGlyphs" stroke="#1a1a1a" stroke-width="0.2">° 2θ (CuKα)</text><text x="384.2" y="212.6" font-size="10" font-weight="bold" fill="#1a1a1a" stroke="#1a1a1a" stroke-width="0.2" textLength="101.4" lengthAdjust="spacingAndGlyphs">wavenumbers (cm<tspan font-size="6.5" dy="-4">-1</tspan><tspan dy="4">)</tspan></text><text x="384.7" y="417.0" font-size="10" font-weight="bold" fill="#1a1a1a" stroke="#1a1a1a" stroke-width="0.2" textLength="100.6" lengthAdjust="spacingAndGlyphs">wavenumbers (cm<tspan font-size="6.5" dy="-4">-1</tspan><tspan dy="4">)</tspan></text><text x="0" y="0" font-size="11" font-weight="bold" fill="#1a1a1a" stroke="#1a1a1a" stroke-width="0.2" text-anchor="middle" textLength="45.2" lengthAdjust="spacingAndGlyphs" transform="translate(17.3,102.6) rotate(-90)">Arbitrary</text><text x="0" y="0" font-size="11" font-weight="bold" fill="#1a1a1a" stroke="#1a1a1a" stroke-width="0.2" text-anchor="middle" textLength="45.8" lengthAdjust="spacingAndGlyphs" transform="translate(16.8,306.0) rotate(-90)">Arbitrary</text><text x="0" y="0" font-size="11" font-weight="bold" fill="#1a1a1a" stroke="#1a1a1a" stroke-width="0.2" text-anchor="middle" textLength="45.2" lengthAdjust="spacingAndGlyphs" transform="translate(524.9,102.6) rotate(-90)">Arbitrary</text><text x="0" y="0" font-size="11" font-weight="bold" fill="#1a1a1a" stroke="#1a1a1a" stroke-width="0.2" text-anchor="middle" textLength="45.5" lengthAdjust="spacingAndGlyphs" transform="translate(524.4,306.4) rotate(-90)">Arbitrary</text><text x="0.0" y="169.8" font-size="10.5" text-anchor="start" font-weight="bold" fill="#1a1a1a" textLength="9.3" lengthAdjust="spacingAndGlyphs" stroke="#1a1a1a" stroke-width="0.2">a)</text><text x="0.0" y="374.5" font-size="10.5" text-anchor="start" font-weight="bold" fill="#1a1a1a" textLength="9.5" lengthAdjust="spacingAndGlyphs" stroke="#1a1a1a" stroke-width="0.2">b)</text><text transform="translate(72.0,91.5) scale(0.9,1)" font-size="10.3" fill="#1a1a1a" stroke="#1a1a1a" stroke-width="0.3">P</text><text transform="translate(83.5,91.5) scale(0.9,1)" font-size="10.3" fill="#1a1a1a" stroke="#1a1a1a" stroke-width="0.3">K</text><text transform="translate(33.0,142.5) scale(0.9,1)" font-size="10.3" fill="#1a1a1a" stroke="#1a1a1a" stroke-width="0.3">I</text><text transform="translate(102.8,163.5) scale(0.9,1)" font-size="10.3" fill="#1a1a1a" stroke="#1a1a1a" stroke-width="0.3">I</text><text transform="translate(118.8,161.2) scale(0.9,1)" font-size="10.3" fill="#1a1a1a" stroke="#1a1a1a" stroke-width="0.3">I</text><text transform="translate(121.7,42.5) scale(0.9,1)" font-size="10.3" fill="#1a1a1a" stroke="#1a1a1a" stroke-width="0.3">Q</text><text transform="translate(132.5,87.5) scale(0.9,1)" font-size="10.3" fill="#1a1a1a" stroke="#1a1a1a" stroke-width="0.3">KP</text><text transform="translate(150.0,87.5) scale(0.9,1)" font-size="10.3" fill="#1a1a1a" stroke="#1a1a1a" stroke-width="0.3">P</text><text transform="translate(163.5,94.6) scale(0.9,1)" font-size="10.3" fill="#1a1a1a" stroke="#1a1a1a" stroke-width="0.3">K</text><text transform="translate(166.7,53.4) scale(0.9,1)" font-size="10.3" fill="#1a1a1a" stroke="#1a1a1a" stroke-width="0.3">Q</text><text transform="translate(177.5,68.8) scale(0.9,1)" font-size="10.3" fill="#1a1a1a" stroke="#1a1a1a" stroke-width="0.3">KP</text><text transform="translate(208.0,95.5) scale(0.9,1)" font-size="10.3" fill="#1a1a1a" stroke="#1a1a1a" stroke-width="0.3">G</text><text transform="translate(243.8,56.8) scale(0.9,1)" font-size="10.3" fill="#1a1a1a" stroke="#1a1a1a" stroke-width="0.3">Q</text><text transform="translate(264.8,93.0) scale(0.9,1)" font-size="10.3" fill="#1a1a1a" stroke="#1a1a1a" stroke-width="0.3">Q</text><text transform="translate(271.4,101.6) scale(0.9,1)" font-size="10.3" fill="#1a1a1a" stroke="#1a1a1a" stroke-width="0.3">Q</text><text transform="translate(288.6,96.1) scale(0.9,1)" font-size="10.3" fill="#1a1a1a" stroke="#1a1a1a" stroke-width="0.3">Q</text><text transform="translate(314.3,93.5) scale(0.9,1)" font-size="10.3" fill="#1a1a1a" stroke="#1a1a1a" stroke-width="0.3">Q</text><text transform="translate(234.8,168.5) scale(0.9,1)" font-size="10.3" fill="#1a1a1a" stroke="#1a1a1a" stroke-width="0.3">I</text><text transform="translate(221.5,101.4) scale(0.9,1)" font-size="10.3" fill="#1a1a1a" stroke="#1a1a1a" stroke-width="0.3">H<tspan font-size="6.8" dy="-4">1</tspan></text><text transform="translate(240.0,94.8) scale(0.9,1)" font-size="10.3" fill="#1a1a1a" stroke="#1a1a1a" stroke-width="0.3">H<tspan font-size="6.8" dy="-4">2</tspan></text><text transform="translate(251.4,100.5) scale(0.9,1)" font-size="10.3" fill="#1a1a1a" stroke="#1a1a1a" stroke-width="0.3">S<tspan font-size="6.8" dy="-4">1</tspan></text><text transform="translate(310.7,104.6) scale(0.9,1)" font-size="10.3" fill="#1a1a1a" stroke="#1a1a1a" stroke-width="0.3">S<tspan font-size="6.8" dy="-4">2</tspan></text><text transform="translate(187.5,259.2) scale(0.9,1)" font-size="10.3" fill="#1a1a1a" stroke="#1a1a1a" stroke-width="0.3">C</text><text transform="translate(206.3,289.7) scale(0.9,1)" font-size="10.3" fill="#1a1a1a" stroke="#1a1a1a" stroke-width="0.3">G</text><text transform="translate(217.5,291.3) scale(0.9,1)" font-size="10.3" fill="#1a1a1a" stroke="#1a1a1a" stroke-width="0.3">H</text><text transform="translate(237.7,290.3) scale(0.9,1)" font-size="10.3" fill="#1a1a1a" stroke="#1a1a1a" stroke-width="0.3">H</text><text transform="translate(249.7,290.0) scale(0.9,1)" font-size="10.3" fill="#1a1a1a" stroke="#1a1a1a" stroke-width="0.3">S</text><text transform="translate(310.8,295.3) scale(0.9,1)" font-size="10.3" fill="#1a1a1a" stroke="#1a1a1a" stroke-width="0.3">S</text><text transform="translate(201.9,309.0) scale(0.9,1)" font-size="10.3" fill="#1a1a1a" stroke="#1a1a1a" stroke-width="0.3">S</text><text transform="translate(305.6,322.6) scale(0.9,1)" font-size="10.3" fill="#1a1a1a" stroke="#1a1a1a" stroke-width="0.3">S</text><text x="241.8" y="336.0" font-size="10" text-anchor="start" font-weight="normal" fill="#333" textLength="19.4" lengthAdjust="spacingAndGlyphs" stroke="#333" stroke-width="0.25">QSD</text><text x="436.6" y="51.7" font-size="10" fill="#1a1a1a">ν<tspan font-size="6.5" dy="2">as</tspan><tspan dy="-2">(Si-O)</tspan></text><text x="473.2" y="94.4" font-size="10" text-anchor="start" font-weight="normal" fill="#1a1a1a" textLength="32.5" lengthAdjust="spacingAndGlyphs" stroke="#1a1a1a" stroke-width="0.25">δ(Si-O)</text><text x="391.1" y="243.7" font-size="10" text-anchor="start" font-weight="normal" fill="#1a1a1a" textLength="22.3" lengthAdjust="spacingAndGlyphs" stroke="#1a1a1a" stroke-width="0.25">1080</text><text x="422.9" y="251.2" font-size="10" fill="#1a1a1a">ν<tspan font-size="6.5" dy="2">as</tspan><tspan dy="-2">(Si-O)</tspan></text><text x="477.0" y="309.8" font-size="10" text-anchor="start" font-weight="normal" fill="#1a1a1a" textLength="31.8" lengthAdjust="spacingAndGlyphs" stroke="#1a1a1a" stroke-width="0.25">δ(Si-O)</text><rect x="553.5" y="1.5" width="102.5" height="118" fill="#fff" stroke="#444" stroke-width="1"/><line x1="557.3" y1="17.5" x2="577.8" y2="17.5" stroke="#a5a5a5" stroke-width="1.1"/><text x="584.5" y="19.9" font-size="11" text-anchor="start" font-weight="normal" fill="#1a1a1a" textLength="59.4" lengthAdjust="spacingAndGlyphs" stroke="#1a1a1a" stroke-width="0.25">Kab2_483_4</text><line x1="557.3" y1="34.5" x2="577.8" y2="34.5" stroke="#ed7d31" stroke-width="1.1"/><text x="584.5" y="36.9" font-size="11" text-anchor="start" font-weight="normal" fill="#1a1a1a" textLength="59.4" lengthAdjust="spacingAndGlyphs" stroke="#1a1a1a" stroke-width="0.25">Ran1_225_4</text><line x1="557.5" y1="52.5" x2="578.0" y2="52.5" stroke="#5b9bd5" stroke-width="1.1"/><text x="585.5" y="54.9" font-size="11" text-anchor="start" font-weight="normal" fill="#1a1a1a" textLength="59.8" lengthAdjust="spacingAndGlyphs" stroke="#1a1a1a" stroke-width="0.25">Ran1_298_3</text><line x1="558.3" y1="70.5" x2="578.8" y2="70.5" stroke="#ffc000" stroke-width="1.1"/><text x="585.4" y="72.9" font-size="11" text-anchor="start" font-weight="normal" fill="#1a1a1a" textLength="50.5" lengthAdjust="spacingAndGlyphs" stroke="#1a1a1a" stroke-width="0.25">Saf_501_5</text><line x1="558.3" y1="87.5" x2="578.8" y2="87.5" stroke="#636363" stroke-width="1.1"/><text x="585.4" y="89.9" font-size="11" text-anchor="start" font-weight="normal" fill="#1a1a1a" textLength="59.8" lengthAdjust="spacingAndGlyphs" stroke="#1a1a1a" stroke-width="0.25">Kab2_918_1</text><line x1="558.3" y1="104.5" x2="578.8" y2="104.5" stroke="#7f6000" stroke-width="1.1"/><text x="585.4" y="106.9" font-size="11" text-anchor="start" font-weight="normal" fill="#1a1a1a" textLength="60.2" lengthAdjust="spacingAndGlyphs" stroke="#1a1a1a" stroke-width="0.25">Ran1_306_5</text><rect x="553.6" y="132.7" width="102.9" height="138.1" fill="#fff" stroke="#444" stroke-width="1"/><text transform="translate(564.4,145.9) scale(0.96,1)" font-size="11" fill="#1a1a1a" stroke="#1a1a1a" stroke-width="0.25">C: calcite</text><text transform="translate(564.4,157.9) scale(1.0,1)" font-size="11" fill="#1a1a1a" stroke="#1a1a1a" stroke-width="0.25">G: gehlenite</text><text transform="translate(561.0,169.9) scale(1.0,1)" font-size="11" fill="#1a1a1a" stroke="#1a1a1a" stroke-width="0.25">H<tspan font-size="7" dy="-3.8">1</tspan><tspan dy="3.8">: hematite (104)</tspan></text><text transform="translate(561.0,182.0) scale(1.0,1)" font-size="11" fill="#1a1a1a" stroke="#1a1a1a" stroke-width="0.25">H<tspan font-size="7" dy="-3.8">2</tspan><tspan dy="3.8">: hematite (110)</tspan></text><text transform="translate(568.3,194.0) scale(1.03,1)" font-size="11" fill="#1a1a1a" stroke="#1a1a1a" stroke-width="0.25">I: illite</text><text transform="translate(565.2,208.1) scale(0.96,1)" font-size="11" fill="#1a1a1a" stroke="#1a1a1a" stroke-width="0.25">K: K-feldspar</text><text transform="translate(564.8,221.7) scale(0.96,1)" font-size="11" fill="#1a1a1a" stroke="#1a1a1a" stroke-width="0.25">P: plagioclase</text><text transform="translate(562.9,235.6) scale(0.96,1)" font-size="11" fill="#1a1a1a" stroke="#1a1a1a" stroke-width="0.25">Q: quartz</text><text transform="translate(561.3,250.0) scale(0.97,1)" font-size="11" fill="#1a1a1a" stroke="#1a1a1a" stroke-width="0.25">S<tspan font-size="7" dy="-3.8">1</tspan><tspan dy="3.8">: spinel (113)</tspan></text><text transform="translate(561.3,263.0) scale(0.97,1)" font-size="11" fill="#1a1a1a" stroke="#1a1a1a" stroke-width="0.25">S<tspan font-size="7" dy="-3.8">2</tspan><tspan dy="3.8">: spinel (004)</tspan></text></svg>
</body></html>
